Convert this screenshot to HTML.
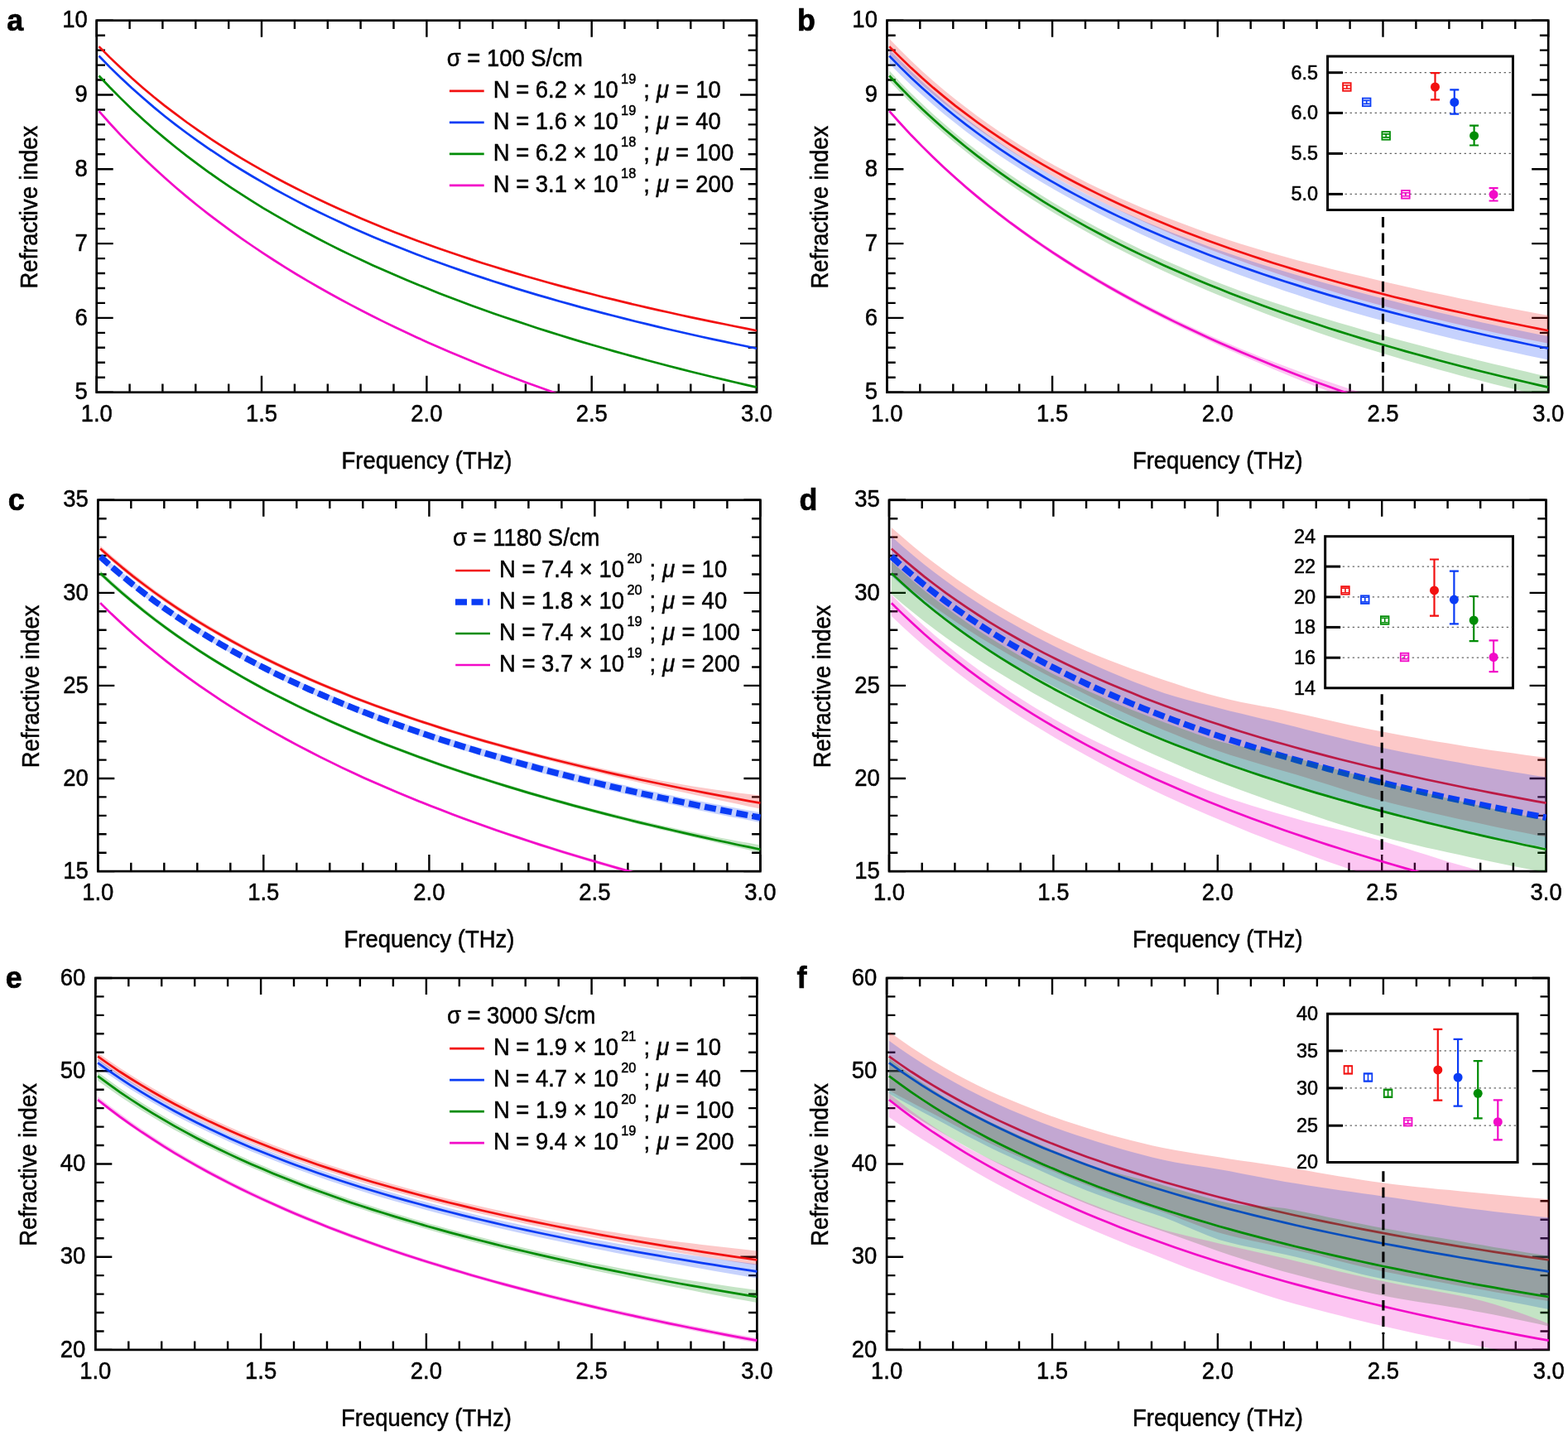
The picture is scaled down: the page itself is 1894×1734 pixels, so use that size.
<!DOCTYPE html>
<html lang="en"><head><meta charset="utf-8"><title>Refractive index vs frequency</title>
<style>html,body{margin:0;padding:0;background:#fff}body{width:1894px;height:1734px;overflow:hidden}svg{display:block}text{font-family:"Liberation Sans",Arial,Helvetica,sans-serif;fill:#000;stroke:#000;stroke-width:0.5px}.t{font-size:28.6px}.pl{font-size:37px;font-weight:bold;stroke-width:0.7px}.it{font-style:italic}.sup{font-size:17px}.in{font-size:24.5px}</style></head><body>
<svg width="1894" height="1734" viewBox="0 0 1894 1734">
<rect width="1894" height="1734" fill="#fff"/>
<g id="panel-a">
<clipPath id="clip-a"><rect x="116.7" y="24.7" width="798.5" height="449.0"/></clipPath>
<rect x="116.7" y="24.7" width="797.3" height="449.0" fill="none" stroke="#000" stroke-width="2.7"/>
<path d="M116.7 473.7v-20.0M116.7 24.7v20.0M156.6 473.7v-10.3M156.6 24.7v10.3M196.4 473.7v-10.3M196.4 24.7v10.3M236.3 473.7v-10.3M236.3 24.7v10.3M276.2 473.7v-10.3M276.2 24.7v10.3M316.0 473.7v-20.0M316.0 24.7v20.0M355.9 473.7v-10.3M355.9 24.7v10.3M395.8 473.7v-10.3M395.8 24.7v10.3M435.6 473.7v-10.3M435.6 24.7v10.3M475.5 473.7v-10.3M475.5 24.7v10.3M515.4 473.7v-20.0M515.4 24.7v20.0M555.2 473.7v-10.3M555.2 24.7v10.3M595.1 473.7v-10.3M595.1 24.7v10.3M634.9 473.7v-10.3M634.9 24.7v10.3M674.8 473.7v-10.3M674.8 24.7v10.3M714.7 473.7v-20.0M714.7 24.7v20.0M754.5 473.7v-10.3M754.5 24.7v10.3M794.4 473.7v-10.3M794.4 24.7v10.3M834.3 473.7v-10.3M834.3 24.7v10.3M874.1 473.7v-10.3M874.1 24.7v10.3M914.0 473.7v-20.0M914.0 24.7v20.0M116.7 473.7h20.0M914.0 473.7h-20.0M116.7 455.7h10.3M914.0 455.7h-10.3M116.7 437.8h10.3M914.0 437.8h-10.3M116.7 419.8h10.3M914.0 419.8h-10.3M116.7 401.9h10.3M914.0 401.9h-10.3M116.7 383.9h20.0M914.0 383.9h-20.0M116.7 365.9h10.3M914.0 365.9h-10.3M116.7 348.0h10.3M914.0 348.0h-10.3M116.7 330.0h10.3M914.0 330.0h-10.3M116.7 312.1h10.3M914.0 312.1h-10.3M116.7 294.1h20.0M914.0 294.1h-20.0M116.7 276.1h10.3M914.0 276.1h-10.3M116.7 258.2h10.3M914.0 258.2h-10.3M116.7 240.2h10.3M914.0 240.2h-10.3M116.7 222.3h10.3M914.0 222.3h-10.3M116.7 204.3h20.0M914.0 204.3h-20.0M116.7 186.3h10.3M914.0 186.3h-10.3M116.7 168.4h10.3M914.0 168.4h-10.3M116.7 150.4h10.3M914.0 150.4h-10.3M116.7 132.5h10.3M914.0 132.5h-10.3M116.7 114.5h20.0M914.0 114.5h-20.0M116.7 96.5h10.3M914.0 96.5h-10.3M116.7 78.6h10.3M914.0 78.6h-10.3M116.7 60.6h10.3M914.0 60.6h-10.3M116.7 42.7h10.3M914.0 42.7h-10.3M116.7 24.7h20.0M914.0 24.7h-20.0" stroke="#000" stroke-width="2.4" fill="none"/>
<text class="t" transform="translate(116.7 508.7) scale(0.96 1)" text-anchor="middle">1.0</text>
<text class="t" transform="translate(316.0 508.7) scale(0.96 1)" text-anchor="middle">1.5</text>
<text class="t" transform="translate(515.4 508.7) scale(0.96 1)" text-anchor="middle">2.0</text>
<text class="t" transform="translate(714.7 508.7) scale(0.96 1)" text-anchor="middle">2.5</text>
<text class="t" transform="translate(914.0 508.7) scale(0.96 1)" text-anchor="middle">3.0</text>
<text class="t" transform="translate(105.7 482.3) scale(0.96 1)" text-anchor="end">5</text>
<text class="t" transform="translate(105.7 392.5) scale(0.96 1)" text-anchor="end">6</text>
<text class="t" transform="translate(105.7 302.7) scale(0.96 1)" text-anchor="end">7</text>
<text class="t" transform="translate(105.7 212.9) scale(0.96 1)" text-anchor="end">8</text>
<text class="t" transform="translate(105.7 123.1) scale(0.96 1)" text-anchor="end">9</text>
<text class="t" transform="translate(105.7 33.3) scale(0.96 1)" text-anchor="end">10</text>
<text class="t" transform="translate(515.4 565.9) scale(0.96 1)" text-anchor="middle">Frequency (THz)</text>
<text class="t" transform="translate(45.4 250.2) rotate(-90) scale(0.96 1)" text-anchor="middle">Refractive index</text>
<text class="pl" transform="translate(8.2 36.7) scale(0.97 1)">a</text>
<g clip-path="url(#clip-a)">
<path d="M119.5 56.1 L132.7 69.4 L146.0 82.1 L159.2 94.3 L172.5 105.9 L185.7 117.0 L198.9 127.6 L212.2 137.7 L225.4 147.5 L238.7 156.9 L251.9 165.9 L265.2 174.6 L278.4 183.0 L291.6 191.1 L304.9 198.9 L318.1 206.4 L331.4 213.7 L344.6 220.7 L357.8 227.5 L371.1 234.1 L384.3 240.5 L397.6 246.7 L410.8 252.8 L424.1 258.6 L437.3 264.3 L450.5 269.8 L463.8 275.2 L477.0 280.4 L490.3 285.5 L503.5 290.5 L516.7 295.3 L530.0 300.0 L543.2 304.6 L556.5 309.0 L569.7 313.4 L583.0 317.7 L596.2 321.8 L609.4 325.9 L622.7 329.9 L635.9 333.7 L649.2 337.5 L662.4 341.3 L675.6 344.9 L688.9 348.4 L702.1 351.9 L715.4 355.3 L728.6 358.7 L741.9 361.9 L755.1 365.1 L768.3 368.3 L781.6 371.4 L794.8 374.4 L808.1 377.3 L821.3 380.2 L834.5 383.1 L847.8 385.9 L861.0 388.6 L874.3 391.3 L887.5 394.0 L900.8 396.6 L914.0 399.2" fill="none" stroke="#f21010" stroke-width="2.7"/>
<path d="M119.5 67.5 L132.7 81.1 L146.0 94.0 L159.2 106.3 L172.5 118.1 L185.7 129.4 L198.9 140.2 L212.2 150.6 L225.4 160.5 L238.7 170.1 L251.9 179.3 L265.2 188.2 L278.4 196.8 L291.6 205.0 L304.9 213.0 L318.1 220.7 L331.4 228.2 L344.6 235.4 L357.8 242.4 L371.1 249.2 L384.3 255.8 L397.6 262.1 L410.8 268.3 L424.1 274.4 L437.3 280.2 L450.5 285.9 L463.8 291.4 L477.0 296.8 L490.3 302.1 L503.5 307.2 L516.7 312.2 L530.0 317.1 L543.2 321.8 L556.5 326.4 L569.7 331.0 L583.0 335.4 L596.2 339.7 L609.4 343.9 L622.7 348.1 L635.9 352.1 L649.2 356.1 L662.4 359.9 L675.6 363.7 L688.9 367.4 L702.1 371.1 L715.4 374.6 L728.6 378.1 L741.9 381.5 L755.1 384.9 L768.3 388.2 L781.6 391.4 L794.8 394.6 L808.1 397.7 L821.3 400.8 L834.5 403.8 L847.8 406.7 L861.0 409.6 L874.3 412.4 L887.5 415.2 L900.8 418.0 L914.0 420.7" fill="none" stroke="#0a3cf5" stroke-width="2.7"/>
<path d="M119.5 91.5 L132.7 105.5 L146.0 118.9 L159.2 131.7 L172.5 143.9 L185.7 155.7 L198.9 166.9 L212.2 177.7 L225.4 188.1 L238.7 198.1 L251.9 207.8 L265.2 217.1 L278.4 226.1 L291.6 234.7 L304.9 243.1 L318.1 251.3 L331.4 259.1 L344.6 266.7 L357.8 274.1 L371.1 281.3 L384.3 288.3 L397.6 295.1 L410.8 301.7 L424.1 308.1 L437.3 314.3 L450.5 320.4 L463.8 326.3 L477.0 332.1 L490.3 337.7 L503.5 343.2 L516.7 348.6 L530.0 353.9 L543.2 359.0 L556.5 364.0 L569.7 368.9 L583.0 373.7 L596.2 378.4 L609.4 383.0 L622.7 387.4 L635.9 391.8 L649.2 396.2 L662.4 400.4 L675.6 404.5 L688.9 408.6 L702.1 412.6 L715.4 416.5 L728.6 420.3 L741.9 424.1 L755.1 427.8 L768.3 431.4 L781.6 435.0 L794.8 438.5 L808.1 442.0 L821.3 445.4 L834.5 448.7 L847.8 452.0 L861.0 455.2 L874.3 458.4 L887.5 461.5 L900.8 464.6 L914.0 467.6" fill="none" stroke="#008c05" stroke-width="2.7"/>
<path d="M119.5 134.2 L132.7 149.0 L146.0 163.3 L159.2 176.9 L172.5 190.0 L185.7 202.5 L198.9 214.6 L212.2 226.2 L225.4 237.4 L238.7 248.2 L251.9 258.6 L265.2 268.7 L278.4 278.4 L291.6 287.9 L304.9 297.0 L318.1 305.9 L331.4 314.5 L344.6 322.8 L357.8 331.0 L371.1 338.8 L384.3 346.5 L397.6 354.0 L410.8 361.3 L424.1 368.4 L437.3 375.3 L450.5 382.0 L463.8 388.6 L477.0 395.0 L490.3 401.3 L503.5 407.4 L516.7 413.4 L530.0 419.3 L543.2 425.0 L556.5 430.6 L569.7 436.1 L583.0 441.5 L596.2 446.8 L609.4 451.9 L622.7 457.0 L635.9 461.9 L649.2 466.8 L662.4 471.6 L675.6 476.2 L688.9 480.8 L702.1 485.3 L715.4 489.7 L728.6 494.1 L741.9 498.4 L755.1 502.5 L768.3 506.7 L781.6 510.7 L794.8 514.7 L808.1 518.6 L821.3 522.4 L834.5 526.2 L847.8 529.9 L861.0 533.6 L874.3 537.2 L887.5 540.7 L900.8 544.2 L914.0 547.6" fill="none" stroke="#f20ac8" stroke-width="2.7"/>
</g>
<text class="t" transform="translate(539.7 79.9) scale(0.96 1)">σ = 100 S/cm</text>
<path d="M542.9 109.9 h41.8" stroke="#f21010" stroke-width="2.7" fill="none"/>
<text class="t" transform="translate(595.7 118.0) scale(0.96 1)">N = 6.2 × 10<tspan class="sup" dx="3.5" dy="-17.5">19</tspan><tspan dx="1.3" dy="17.5" letter-spacing="0.22"> ; <tspan class="it">μ</tspan> = 10</tspan></text>
<path d="M542.9 147.9 h41.8" stroke="#0a3cf5" stroke-width="2.7" fill="none"/>
<text class="t" transform="translate(595.7 156.0) scale(0.96 1)">N = 1.6 × 10<tspan class="sup" dx="3.5" dy="-17.5">19</tspan><tspan dx="1.3" dy="17.5" letter-spacing="0.22"> ; <tspan class="it">μ</tspan> = 40</tspan></text>
<path d="M542.9 185.9 h41.8" stroke="#008c05" stroke-width="2.7" fill="none"/>
<text class="t" transform="translate(595.7 194.0) scale(0.96 1)">N = 6.2 × 10<tspan class="sup" dx="3.5" dy="-17.5">18</tspan><tspan dx="1.3" dy="17.5" letter-spacing="0.22"> ; <tspan class="it">μ</tspan> = 100</tspan></text>
<path d="M542.9 223.9 h41.8" stroke="#f20ac8" stroke-width="2.7" fill="none"/>
<text class="t" transform="translate(595.7 232.0) scale(0.96 1)">N = 3.1 × 10<tspan class="sup" dx="3.5" dy="-17.5">18</tspan><tspan dx="1.3" dy="17.5" letter-spacing="0.22"> ; <tspan class="it">μ</tspan> = 200</tspan></text>
</g>
<g id="panel-b">
<clipPath id="clip-b"><rect x="1071.4" y="24.7" width="800.0" height="449.0"/></clipPath>
<rect x="1071.4" y="24.7" width="798.8" height="449.0" fill="none" stroke="#000" stroke-width="2.7"/>
<path d="M1071.4 473.7v-20.0M1071.4 24.7v20.0M1111.3 473.7v-10.3M1111.3 24.7v10.3M1151.3 473.7v-10.3M1151.3 24.7v10.3M1191.2 473.7v-10.3M1191.2 24.7v10.3M1231.2 473.7v-10.3M1231.2 24.7v10.3M1271.1 473.7v-20.0M1271.1 24.7v20.0M1311.0 473.7v-10.3M1311.0 24.7v10.3M1351.0 473.7v-10.3M1351.0 24.7v10.3M1390.9 473.7v-10.3M1390.9 24.7v10.3M1430.9 473.7v-10.3M1430.9 24.7v10.3M1470.8 473.7v-20.0M1470.8 24.7v20.0M1510.7 473.7v-10.3M1510.7 24.7v10.3M1550.7 473.7v-10.3M1550.7 24.7v10.3M1590.6 473.7v-10.3M1590.6 24.7v10.3M1630.6 473.7v-10.3M1630.6 24.7v10.3M1670.5 473.7v-20.0M1670.5 24.7v20.0M1710.4 473.7v-10.3M1710.4 24.7v10.3M1750.4 473.7v-10.3M1750.4 24.7v10.3M1790.3 473.7v-10.3M1790.3 24.7v10.3M1830.3 473.7v-10.3M1830.3 24.7v10.3M1870.2 473.7v-20.0M1870.2 24.7v20.0M1071.4 473.7h20.0M1870.2 473.7h-20.0M1071.4 455.7h10.3M1870.2 455.7h-10.3M1071.4 437.8h10.3M1870.2 437.8h-10.3M1071.4 419.8h10.3M1870.2 419.8h-10.3M1071.4 401.9h10.3M1870.2 401.9h-10.3M1071.4 383.9h20.0M1870.2 383.9h-20.0M1071.4 365.9h10.3M1870.2 365.9h-10.3M1071.4 348.0h10.3M1870.2 348.0h-10.3M1071.4 330.0h10.3M1870.2 330.0h-10.3M1071.4 312.1h10.3M1870.2 312.1h-10.3M1071.4 294.1h20.0M1870.2 294.1h-20.0M1071.4 276.1h10.3M1870.2 276.1h-10.3M1071.4 258.2h10.3M1870.2 258.2h-10.3M1071.4 240.2h10.3M1870.2 240.2h-10.3M1071.4 222.3h10.3M1870.2 222.3h-10.3M1071.4 204.3h20.0M1870.2 204.3h-20.0M1071.4 186.3h10.3M1870.2 186.3h-10.3M1071.4 168.4h10.3M1870.2 168.4h-10.3M1071.4 150.4h10.3M1870.2 150.4h-10.3M1071.4 132.5h10.3M1870.2 132.5h-10.3M1071.4 114.5h20.0M1870.2 114.5h-20.0M1071.4 96.5h10.3M1870.2 96.5h-10.3M1071.4 78.6h10.3M1870.2 78.6h-10.3M1071.4 60.6h10.3M1870.2 60.6h-10.3M1071.4 42.7h10.3M1870.2 42.7h-10.3M1071.4 24.7h20.0M1870.2 24.7h-20.0" stroke="#000" stroke-width="2.4" fill="none"/>
<text class="t" transform="translate(1071.4 508.7) scale(0.96 1)" text-anchor="middle">1.0</text>
<text class="t" transform="translate(1271.1 508.7) scale(0.96 1)" text-anchor="middle">1.5</text>
<text class="t" transform="translate(1470.8 508.7) scale(0.96 1)" text-anchor="middle">2.0</text>
<text class="t" transform="translate(1670.5 508.7) scale(0.96 1)" text-anchor="middle">2.5</text>
<text class="t" transform="translate(1870.2 508.7) scale(0.96 1)" text-anchor="middle">3.0</text>
<text class="t" transform="translate(1059.9 482.3) scale(0.96 1)" text-anchor="end">5</text>
<text class="t" transform="translate(1059.9 392.5) scale(0.96 1)" text-anchor="end">6</text>
<text class="t" transform="translate(1059.9 302.7) scale(0.96 1)" text-anchor="end">7</text>
<text class="t" transform="translate(1059.9 212.9) scale(0.96 1)" text-anchor="end">8</text>
<text class="t" transform="translate(1059.9 123.1) scale(0.96 1)" text-anchor="end">9</text>
<text class="t" transform="translate(1059.9 33.3) scale(0.96 1)" text-anchor="end">10</text>
<text class="t" transform="translate(1470.8 565.9) scale(0.96 1)" text-anchor="middle">Frequency (THz)</text>
<text class="t" transform="translate(1000.1 250.2) rotate(-90) scale(0.96 1)" text-anchor="middle">Refractive index</text>
<text class="pl" transform="translate(962.9 36.7) scale(0.97 1)">b</text>
<g clip-path="url(#clip-b)">
<path d="M1074.2 46.8 L1087.5 60.5 L1100.7 73.5 L1114.0 85.9 L1127.3 97.7 L1140.5 109.0 L1153.8 119.8 L1167.1 130.1 L1180.3 140.0 L1193.6 149.6 L1206.9 158.7 L1220.1 167.5 L1233.4 175.9 L1246.7 184.0 L1259.9 191.9 L1273.2 199.4 L1286.5 206.6 L1299.7 213.6 L1313.0 220.4 L1326.3 226.9 L1339.5 233.1 L1352.8 239.2 L1366.1 245.0 L1379.3 250.7 L1392.6 256.1 L1405.9 261.5 L1419.1 266.6 L1432.4 271.6 L1445.7 276.4 L1458.9 281.2 L1472.2 285.7 L1485.5 290.2 L1498.7 294.4 L1512.0 298.6 L1525.3 302.5 L1538.5 306.3 L1551.8 310.1 L1565.1 313.7 L1578.3 317.2 L1591.6 320.6 L1604.9 323.9 L1618.1 327.2 L1631.4 330.4 L1644.7 333.6 L1657.9 336.8 L1671.2 339.9 L1684.5 343.0 L1697.7 346.0 L1711.0 349.0 L1724.3 351.9 L1737.5 354.8 L1750.8 357.6 L1764.1 360.4 L1777.3 363.1 L1790.6 365.7 L1803.9 368.4 L1817.1 371.0 L1830.4 373.5 L1843.7 376.1 L1856.9 378.6 L1870.2 381.1 L1870.2 414.7 L1856.9 412.1 L1843.7 409.5 L1830.4 406.8 L1817.1 404.0 L1803.9 401.2 L1790.6 398.3 L1777.3 395.4 L1764.1 392.3 L1750.8 389.3 L1737.5 386.1 L1724.3 382.9 L1711.0 379.7 L1697.7 376.3 L1684.5 372.9 L1671.2 369.4 L1657.9 365.9 L1644.7 362.2 L1631.4 358.4 L1618.1 354.5 L1604.9 350.5 L1591.6 346.5 L1578.3 342.3 L1565.1 338.0 L1551.8 333.6 L1538.5 329.1 L1525.3 324.5 L1512.0 319.9 L1498.7 315.1 L1485.5 310.2 L1472.2 305.3 L1458.9 300.2 L1445.7 295.0 L1432.4 289.7 L1419.1 284.2 L1405.9 278.6 L1392.6 272.8 L1379.3 266.8 L1366.1 260.7 L1352.8 254.5 L1339.5 248.1 L1326.3 241.5 L1313.0 234.7 L1299.7 227.8 L1286.5 220.7 L1273.2 213.4 L1259.9 205.9 L1246.7 198.1 L1233.4 190.1 L1220.1 181.7 L1206.9 173.1 L1193.6 164.2 L1180.3 154.9 L1167.1 145.3 L1153.8 135.3 L1140.5 124.9 L1127.3 114.0 L1114.0 102.7 L1100.7 90.8 L1087.5 78.3 L1074.2 65.3Z" fill="#f21010" fill-opacity="0.23" stroke="none"/>
<path d="M1074.2 56.1 L1087.5 69.4 L1100.7 82.1 L1114.0 94.3 L1127.3 105.9 L1140.5 116.9 L1153.8 127.6 L1167.1 137.7 L1180.3 147.5 L1193.6 156.9 L1206.9 165.9 L1220.1 174.6 L1233.4 183.0 L1246.7 191.1 L1259.9 198.9 L1273.2 206.4 L1286.5 213.7 L1299.7 220.7 L1313.0 227.5 L1326.3 234.1 L1339.5 240.5 L1352.8 246.7 L1366.1 252.8 L1379.3 258.6 L1392.6 264.3 L1405.9 269.8 L1419.1 275.2 L1432.4 280.4 L1445.7 285.5 L1458.9 290.4 L1472.2 295.3 L1485.5 300.0 L1498.7 304.6 L1512.0 309.0 L1525.3 313.4 L1538.5 317.7 L1551.8 321.8 L1565.1 325.9 L1578.3 329.9 L1591.6 333.7 L1604.9 337.5 L1618.1 341.2 L1631.4 344.9 L1644.7 348.4 L1657.9 351.9 L1671.2 355.3 L1684.5 358.7 L1697.7 361.9 L1711.0 365.1 L1724.3 368.3 L1737.5 371.4 L1750.8 374.4 L1764.1 377.3 L1777.3 380.2 L1790.6 383.1 L1803.9 385.9 L1817.1 388.6 L1830.4 391.3 L1843.7 394.0 L1856.9 396.6 L1870.2 399.2" fill="none" stroke="#f21010" stroke-width="2.7"/>
<path d="M1074.2 59.6 L1087.5 73.3 L1100.7 86.3 L1114.0 98.7 L1127.3 110.6 L1140.5 122.0 L1153.8 132.9 L1167.1 143.3 L1180.3 153.3 L1193.6 162.9 L1206.9 172.1 L1220.1 181.0 L1233.4 189.6 L1246.7 197.8 L1259.9 205.8 L1273.2 213.5 L1286.5 221.0 L1299.7 228.1 L1313.0 235.0 L1326.3 241.6 L1339.5 248.0 L1352.8 254.2 L1366.1 260.1 L1379.3 265.9 L1392.6 271.5 L1405.9 276.9 L1419.1 282.2 L1432.4 287.3 L1445.7 292.3 L1458.9 297.2 L1472.2 302.0 L1485.5 306.6 L1498.7 311.1 L1512.0 315.4 L1525.3 319.7 L1538.5 323.8 L1551.8 327.8 L1565.1 331.7 L1578.3 335.6 L1591.6 339.3 L1604.9 343.0 L1618.1 346.6 L1631.4 350.2 L1644.7 353.7 L1657.9 357.2 L1671.2 360.7 L1684.5 364.1 L1697.7 367.5 L1711.0 370.8 L1724.3 374.0 L1737.5 377.2 L1750.8 380.3 L1764.1 383.4 L1777.3 386.4 L1790.6 389.4 L1803.9 392.3 L1817.1 395.2 L1830.4 398.0 L1843.7 400.8 L1856.9 403.5 L1870.2 406.2 L1870.2 434.4 L1856.9 431.7 L1843.7 428.9 L1830.4 426.1 L1817.1 423.2 L1803.9 420.3 L1790.6 417.3 L1777.3 414.3 L1764.1 411.2 L1750.8 408.0 L1737.5 404.8 L1724.3 401.5 L1711.0 398.1 L1697.7 394.7 L1684.5 391.2 L1671.2 387.6 L1657.9 384.0 L1644.7 380.2 L1631.4 376.4 L1618.1 372.4 L1604.9 368.4 L1591.6 364.2 L1578.3 360.0 L1565.1 355.6 L1551.8 351.2 L1538.5 346.6 L1525.3 342.0 L1512.0 337.2 L1498.7 332.4 L1485.5 327.5 L1472.2 322.4 L1458.9 317.2 L1445.7 311.9 L1432.4 306.5 L1419.1 300.9 L1405.9 295.2 L1392.6 289.3 L1379.3 283.3 L1366.1 277.1 L1352.8 270.7 L1339.5 264.2 L1326.3 257.5 L1313.0 250.6 L1299.7 243.5 L1286.5 236.2 L1273.2 228.7 L1259.9 221.0 L1246.7 213.0 L1233.4 204.8 L1220.1 196.3 L1206.9 187.4 L1193.6 178.3 L1180.3 168.8 L1167.1 158.9 L1153.8 148.6 L1140.5 137.9 L1127.3 126.7 L1114.0 115.1 L1100.7 102.9 L1087.5 90.2 L1074.2 76.8Z" fill="#0a3cf5" fill-opacity="0.23" stroke="none"/>
<path d="M1074.2 67.5 L1087.5 81.1 L1100.7 94.0 L1114.0 106.3 L1127.3 118.1 L1140.5 129.4 L1153.8 140.2 L1167.1 150.6 L1180.3 160.5 L1193.6 170.1 L1206.9 179.3 L1220.1 188.2 L1233.4 196.8 L1246.7 205.0 L1259.9 213.0 L1273.2 220.7 L1286.5 228.2 L1299.7 235.4 L1313.0 242.4 L1326.3 249.2 L1339.5 255.8 L1352.8 262.1 L1366.1 268.3 L1379.3 274.4 L1392.6 280.2 L1405.9 285.9 L1419.1 291.4 L1432.4 296.8 L1445.7 302.1 L1458.9 307.2 L1472.2 312.2 L1485.5 317.1 L1498.7 321.8 L1512.0 326.4 L1525.3 331.0 L1538.5 335.4 L1551.8 339.7 L1565.1 343.9 L1578.3 348.1 L1591.6 352.1 L1604.9 356.1 L1618.1 359.9 L1631.4 363.7 L1644.7 367.4 L1657.9 371.1 L1671.2 374.6 L1684.5 378.1 L1697.7 381.5 L1711.0 384.9 L1724.3 388.2 L1737.5 391.4 L1750.8 394.6 L1764.1 397.7 L1777.3 400.8 L1790.6 403.8 L1803.9 406.7 L1817.1 409.6 L1830.4 412.4 L1843.7 415.2 L1856.9 418.0 L1870.2 420.7" fill="none" stroke="#0a3cf5" stroke-width="2.7"/>
<path d="M1074.2 85.3 L1087.5 99.4 L1100.7 112.8 L1114.0 125.6 L1127.3 137.9 L1140.5 149.6 L1153.8 160.9 L1167.1 171.7 L1180.3 182.1 L1193.6 192.1 L1206.9 201.8 L1220.1 211.1 L1233.4 220.1 L1246.7 228.7 L1259.9 237.1 L1273.2 245.2 L1286.5 253.1 L1299.7 260.7 L1313.0 268.1 L1326.3 275.2 L1339.5 282.1 L1352.8 288.8 L1366.1 295.3 L1379.3 301.7 L1392.6 307.8 L1405.9 313.8 L1419.1 319.6 L1432.4 325.3 L1445.7 330.8 L1458.9 336.2 L1472.2 341.4 L1485.5 346.5 L1498.7 351.4 L1512.0 356.2 L1525.3 360.8 L1538.5 365.3 L1551.8 369.6 L1565.1 373.9 L1578.3 378.0 L1591.6 382.1 L1604.9 386.1 L1618.1 390.0 L1631.4 393.8 L1644.7 397.7 L1657.9 401.4 L1671.2 405.2 L1684.5 408.9 L1697.7 412.5 L1711.0 416.1 L1724.3 419.6 L1737.5 423.0 L1750.8 426.4 L1764.1 429.8 L1777.3 433.1 L1790.6 436.3 L1803.9 439.5 L1817.1 442.6 L1830.4 445.8 L1843.7 448.8 L1856.9 451.9 L1870.2 454.9 L1870.2 479.6 L1856.9 476.5 L1843.7 473.4 L1830.4 470.2 L1817.1 467.0 L1803.9 463.7 L1790.6 460.3 L1777.3 456.9 L1764.1 453.4 L1750.8 449.8 L1737.5 446.2 L1724.3 442.5 L1711.0 438.8 L1697.7 434.9 L1684.5 431.1 L1671.2 427.1 L1657.9 423.1 L1644.7 418.9 L1631.4 414.7 L1618.1 410.4 L1604.9 405.9 L1591.6 401.4 L1578.3 396.8 L1565.1 392.1 L1551.8 387.3 L1538.5 382.4 L1525.3 377.4 L1512.0 372.3 L1498.7 367.1 L1485.5 361.8 L1472.2 356.4 L1458.9 350.9 L1445.7 345.3 L1432.4 339.5 L1419.1 333.5 L1405.9 327.5 L1392.6 321.2 L1379.3 314.8 L1366.1 308.3 L1352.8 301.5 L1339.5 294.7 L1326.3 287.6 L1313.0 280.3 L1299.7 272.8 L1286.5 265.1 L1273.2 257.3 L1259.9 249.1 L1246.7 240.7 L1233.4 232.0 L1220.1 223.0 L1206.9 213.7 L1193.6 204.1 L1180.3 194.1 L1167.1 183.6 L1153.8 172.8 L1140.5 161.6 L1127.3 149.8 L1114.0 137.6 L1100.7 124.8 L1087.5 111.4 L1074.2 97.4Z" fill="#008c05" fill-opacity="0.23" stroke="none"/>
<path d="M1074.2 91.5 L1087.5 105.5 L1100.7 118.9 L1114.0 131.7 L1127.3 143.9 L1140.5 155.7 L1153.8 166.9 L1167.1 177.7 L1180.3 188.1 L1193.6 198.1 L1206.9 207.8 L1220.1 217.1 L1233.4 226.1 L1246.7 234.7 L1259.9 243.1 L1273.2 251.2 L1286.5 259.1 L1299.7 266.7 L1313.0 274.1 L1326.3 281.3 L1339.5 288.3 L1352.8 295.1 L1366.1 301.7 L1379.3 308.1 L1392.6 314.3 L1405.9 320.4 L1419.1 326.3 L1432.4 332.1 L1445.7 337.7 L1458.9 343.2 L1472.2 348.6 L1485.5 353.9 L1498.7 359.0 L1512.0 364.0 L1525.3 368.9 L1538.5 373.7 L1551.8 378.4 L1565.1 383.0 L1578.3 387.4 L1591.6 391.8 L1604.9 396.2 L1618.1 400.4 L1631.4 404.5 L1644.7 408.6 L1657.9 412.6 L1671.2 416.5 L1684.5 420.3 L1697.7 424.1 L1711.0 427.8 L1724.3 431.4 L1737.5 435.0 L1750.8 438.5 L1764.1 442.0 L1777.3 445.4 L1790.6 448.7 L1803.9 452.0 L1817.1 455.2 L1830.4 458.4 L1843.7 461.5 L1856.9 464.6 L1870.2 467.6" fill="none" stroke="#008c05" stroke-width="2.7"/>
<path d="M1074.2 132.6 L1087.5 147.4 L1100.7 161.6 L1114.0 175.2 L1127.3 188.2 L1140.5 200.7 L1153.8 212.7 L1167.1 224.2 L1180.3 235.3 L1193.6 246.1 L1206.9 256.4 L1220.1 266.4 L1233.4 276.1 L1246.7 285.5 L1259.9 294.6 L1273.2 303.4 L1286.5 311.9 L1299.7 320.2 L1313.0 328.3 L1326.3 336.1 L1339.5 343.7 L1352.8 351.1 L1366.1 358.4 L1379.3 365.4 L1392.6 372.2 L1405.9 378.9 L1419.1 385.4 L1432.4 391.8 L1445.7 398.0 L1458.9 404.0 L1472.2 409.9 L1485.5 415.6 L1498.7 421.2 L1512.0 426.6 L1525.3 431.9 L1538.5 437.0 L1551.8 442.0 L1565.1 446.9 L1578.3 451.7 L1591.6 456.4 L1604.9 460.9 L1618.1 465.4 L1631.4 469.9 L1644.7 474.2 L1657.9 478.5 L1671.2 482.7 L1684.5 486.9 L1697.7 491.0 L1711.0 495.0 L1724.3 499.0 L1737.5 502.9 L1750.8 506.7 L1764.1 510.5 L1777.3 514.2 L1790.6 517.8 L1803.9 521.4 L1817.1 525.0 L1830.4 528.4 L1843.7 531.9 L1856.9 535.3 L1870.2 538.6 L1870.2 556.6 L1856.9 553.1 L1843.7 549.5 L1830.4 545.9 L1817.1 542.2 L1803.9 538.4 L1790.6 534.6 L1777.3 530.7 L1764.1 526.7 L1750.8 522.6 L1737.5 518.5 L1724.3 514.3 L1711.0 510.0 L1697.7 505.7 L1684.5 501.3 L1671.2 496.8 L1657.9 492.1 L1644.7 487.4 L1631.4 482.6 L1618.1 477.7 L1604.9 472.6 L1591.6 467.5 L1578.3 462.3 L1565.1 456.9 L1551.8 451.5 L1538.5 446.0 L1525.3 440.3 L1512.0 434.6 L1498.7 428.8 L1485.5 422.9 L1472.2 416.9 L1458.9 410.8 L1445.7 404.6 L1432.4 398.3 L1419.1 391.8 L1405.9 385.1 L1392.6 378.3 L1379.3 371.3 L1366.1 364.2 L1352.8 356.8 L1339.5 349.3 L1326.3 341.6 L1313.0 333.6 L1299.7 325.5 L1286.5 317.1 L1273.2 308.4 L1259.9 299.5 L1246.7 290.2 L1233.4 280.7 L1220.1 270.9 L1206.9 260.8 L1193.6 250.3 L1180.3 239.4 L1167.1 228.2 L1153.8 216.5 L1140.5 204.4 L1127.3 191.7 L1114.0 178.6 L1100.7 164.9 L1087.5 150.6 L1074.2 135.7Z" fill="#f20ac8" fill-opacity="0.23" stroke="none"/>
<path d="M1074.2 134.1 L1087.5 149.0 L1100.7 163.3 L1114.0 176.9 L1127.3 190.0 L1140.5 202.5 L1153.8 214.6 L1167.1 226.2 L1180.3 237.4 L1193.6 248.2 L1206.9 258.6 L1220.1 268.7 L1233.4 278.4 L1246.7 287.9 L1259.9 297.0 L1273.2 305.9 L1286.5 314.5 L1299.7 322.8 L1313.0 330.9 L1326.3 338.8 L1339.5 346.5 L1352.8 354.0 L1366.1 361.3 L1379.3 368.4 L1392.6 375.3 L1405.9 382.0 L1419.1 388.6 L1432.4 395.0 L1445.7 401.3 L1458.9 407.4 L1472.2 413.4 L1485.5 419.3 L1498.7 425.0 L1512.0 430.6 L1525.3 436.1 L1538.5 441.5 L1551.8 446.8 L1565.1 451.9 L1578.3 457.0 L1591.6 461.9 L1604.9 466.8 L1618.1 471.6 L1631.4 476.2 L1644.7 480.8 L1657.9 485.3 L1671.2 489.7 L1684.5 494.1 L1697.7 498.4 L1711.0 502.5 L1724.3 506.7 L1737.5 510.7 L1750.8 514.7 L1764.1 518.6 L1777.3 522.4 L1790.6 526.2 L1803.9 529.9 L1817.1 533.6 L1830.4 537.2 L1843.7 540.7 L1856.9 544.2 L1870.2 547.6" fill="none" stroke="#f20ac8" stroke-width="2.7"/>
</g>
<path d="M1670.5 262.0 V454.7" stroke="#000" stroke-width="3.1" stroke-dasharray="12.6 6.85" fill="none"/>
<rect x="1603.6" y="68.0" width="223.9" height="185.5" fill="#fff" stroke="#000" stroke-width="3"/>
<path d="M1603.6 87.7 H1622.1" stroke="#000" stroke-width="3" fill="none"/>
<path d="M1624.6 87.7 H1826.5" stroke="#666" stroke-width="1.2" stroke-dasharray="2.4 3.6" fill="none"/>
<text class="in" transform="translate(1592.1 95.5) scale(0.96 1)" text-anchor="end">6.5</text>
<path d="M1603.6 136.4 H1622.1" stroke="#000" stroke-width="3" fill="none"/>
<path d="M1624.6 136.4 H1826.5" stroke="#666" stroke-width="1.2" stroke-dasharray="2.4 3.6" fill="none"/>
<text class="in" transform="translate(1592.1 144.2) scale(0.96 1)" text-anchor="end">6.0</text>
<path d="M1603.6 185.4 H1622.1" stroke="#000" stroke-width="3" fill="none"/>
<path d="M1624.6 185.4 H1826.5" stroke="#666" stroke-width="1.2" stroke-dasharray="2.4 3.6" fill="none"/>
<text class="in" transform="translate(1592.1 193.2) scale(0.96 1)" text-anchor="end">5.5</text>
<path d="M1603.6 234.4 H1622.1" stroke="#000" stroke-width="3" fill="none"/>
<path d="M1624.6 234.4 H1826.5" stroke="#666" stroke-width="1.2" stroke-dasharray="2.4 3.6" fill="none"/>
<text class="in" transform="translate(1592.1 242.2) scale(0.96 1)" text-anchor="end">5.0</text>
<rect x="1622.1" y="100.2" width="9.6" height="9.6" fill="none" stroke="#f21010" stroke-width="1.8"/>
<path d="M1622.9 103.0h8M1622.9 107.0h8M1626.9 103.0V107.0" stroke="#f21010" stroke-width="1.6" fill="none"/>
<path d="M1733.5 88.2V120.3M1728.0 88.2h11M1728.0 120.3h11" stroke="#f21010" stroke-width="2.2" fill="none"/>
<circle cx="1733.5" cy="105.0" r="5.5" fill="#f21010"/>
<rect x="1645.9" y="118.6" width="9.6" height="9.6" fill="none" stroke="#0a3cf5" stroke-width="1.8"/>
<path d="M1646.7 121.4h8M1646.7 125.4h8M1650.7 121.4V125.4" stroke="#0a3cf5" stroke-width="1.6" fill="none"/>
<path d="M1756.8 108.3V137.6M1751.3 108.3h11M1751.3 137.6h11" stroke="#0a3cf5" stroke-width="2.2" fill="none"/>
<circle cx="1756.8" cy="123.4" r="5.5" fill="#0a3cf5"/>
<rect x="1669.4" y="159.1" width="9.6" height="9.6" fill="none" stroke="#008c05" stroke-width="1.8"/>
<path d="M1670.2 161.9h8M1670.2 165.9h8M1674.2 161.9V165.9" stroke="#008c05" stroke-width="1.6" fill="none"/>
<path d="M1780.6 151.6V175.5M1775.1 151.6h11M1775.1 175.5h11" stroke="#008c05" stroke-width="2.2" fill="none"/>
<circle cx="1780.6" cy="163.9" r="5.5" fill="#008c05"/>
<rect x="1693.1" y="230.0" width="9.6" height="9.6" fill="none" stroke="#f20ac8" stroke-width="1.8"/>
<path d="M1693.9 232.8h8M1693.9 236.8h8M1697.9 232.8V236.8" stroke="#f20ac8" stroke-width="1.6" fill="none"/>
<path d="M1804.1 227.1V242.5M1798.6 227.1h11M1798.6 242.5h11" stroke="#f20ac8" stroke-width="2.2" fill="none"/>
<circle cx="1804.1" cy="234.8" r="5.5" fill="#f20ac8"/>
</g>
<g id="panel-c">
<clipPath id="clip-c"><rect x="118.3" y="603.8" width="801.3" height="448.3"/></clipPath>
<rect x="118.3" y="603.8" width="800.1" height="448.3" fill="none" stroke="#000" stroke-width="2.7"/>
<path d="M118.3 1052.1v-20.0M118.3 603.8v20.0M158.3 1052.1v-10.3M158.3 603.8v10.3M198.3 1052.1v-10.3M198.3 603.8v10.3M238.3 1052.1v-10.3M238.3 603.8v10.3M278.3 1052.1v-10.3M278.3 603.8v10.3M318.3 1052.1v-20.0M318.3 603.8v20.0M358.3 1052.1v-10.3M358.3 603.8v10.3M398.3 1052.1v-10.3M398.3 603.8v10.3M438.3 1052.1v-10.3M438.3 603.8v10.3M478.3 1052.1v-10.3M478.3 603.8v10.3M518.4 1052.1v-20.0M518.4 603.8v20.0M558.4 1052.1v-10.3M558.4 603.8v10.3M598.4 1052.1v-10.3M598.4 603.8v10.3M638.4 1052.1v-10.3M638.4 603.8v10.3M678.4 1052.1v-10.3M678.4 603.8v10.3M718.4 1052.1v-20.0M718.4 603.8v20.0M758.4 1052.1v-10.3M758.4 603.8v10.3M798.4 1052.1v-10.3M798.4 603.8v10.3M838.4 1052.1v-10.3M838.4 603.8v10.3M878.4 1052.1v-10.3M878.4 603.8v10.3M918.4 1052.1v-20.0M918.4 603.8v20.0M118.3 1052.1h20.0M918.4 1052.1h-20.0M118.3 1029.7h10.3M918.4 1029.7h-10.3M118.3 1007.3h10.3M918.4 1007.3h-10.3M118.3 984.9h10.3M918.4 984.9h-10.3M118.3 962.4h10.3M918.4 962.4h-10.3M118.3 940.0h20.0M918.4 940.0h-20.0M118.3 917.6h10.3M918.4 917.6h-10.3M118.3 895.2h10.3M918.4 895.2h-10.3M118.3 872.8h10.3M918.4 872.8h-10.3M118.3 850.4h10.3M918.4 850.4h-10.3M118.3 827.9h20.0M918.4 827.9h-20.0M118.3 805.5h10.3M918.4 805.5h-10.3M118.3 783.1h10.3M918.4 783.1h-10.3M118.3 760.7h10.3M918.4 760.7h-10.3M118.3 738.3h10.3M918.4 738.3h-10.3M118.3 715.9h20.0M918.4 715.9h-20.0M118.3 693.5h10.3M918.4 693.5h-10.3M118.3 671.0h10.3M918.4 671.0h-10.3M118.3 648.6h10.3M918.4 648.6h-10.3M118.3 626.2h10.3M918.4 626.2h-10.3M118.3 603.8h20.0M918.4 603.8h-20.0" stroke="#000" stroke-width="2.4" fill="none"/>
<text class="t" transform="translate(118.3 1087.1) scale(0.96 1)" text-anchor="middle">1.0</text>
<text class="t" transform="translate(318.3 1087.1) scale(0.96 1)" text-anchor="middle">1.5</text>
<text class="t" transform="translate(518.4 1087.1) scale(0.96 1)" text-anchor="middle">2.0</text>
<text class="t" transform="translate(718.4 1087.1) scale(0.96 1)" text-anchor="middle">2.5</text>
<text class="t" transform="translate(918.4 1087.1) scale(0.96 1)" text-anchor="middle">3.0</text>
<text class="t" transform="translate(106.8 1060.7) scale(0.96 1)" text-anchor="end">15</text>
<text class="t" transform="translate(106.8 948.6) scale(0.96 1)" text-anchor="end">20</text>
<text class="t" transform="translate(106.8 836.5) scale(0.96 1)" text-anchor="end">25</text>
<text class="t" transform="translate(106.8 724.5) scale(0.96 1)" text-anchor="end">30</text>
<text class="t" transform="translate(106.8 612.4) scale(0.96 1)" text-anchor="end">35</text>
<text class="t" transform="translate(518.4 1144.3) scale(0.96 1)" text-anchor="middle">Frequency (THz)</text>
<text class="t" transform="translate(47.0 828.9) rotate(-90) scale(0.96 1)" text-anchor="middle">Refractive index</text>
<text class="pl" transform="translate(9.8 615.8) scale(0.97 1)">c</text>
<g clip-path="url(#clip-c)">
<path d="M121.1 659.0 L134.4 670.8 L147.7 682.0 L161.0 692.8 L174.3 703.1 L187.5 712.9 L200.8 722.3 L214.1 731.4 L227.4 740.1 L240.7 748.5 L254.0 756.5 L267.3 764.3 L280.6 771.8 L293.8 779.0 L307.1 786.0 L320.4 792.8 L333.7 799.3 L347.0 805.7 L360.3 811.8 L373.6 817.8 L386.9 823.5 L400.2 829.2 L413.4 834.6 L426.7 839.9 L440.0 845.0 L453.3 849.9 L466.6 854.8 L479.9 859.4 L493.2 864.0 L506.5 868.5 L519.8 872.8 L533.0 877.1 L546.3 881.2 L559.6 885.2 L572.9 889.1 L586.2 892.9 L599.5 896.7 L612.8 900.3 L626.1 903.8 L639.3 907.3 L652.6 910.7 L665.9 913.9 L679.2 917.1 L692.5 920.3 L705.8 923.3 L719.1 926.3 L732.4 929.2 L745.7 932.1 L758.9 934.8 L772.2 937.5 L785.5 940.1 L798.8 942.7 L812.1 945.1 L825.4 947.5 L838.7 949.7 L852.0 951.8 L865.2 953.8 L878.5 955.6 L891.8 957.4 L905.1 959.0 L918.4 960.6 L918.4 976.6 L905.1 973.9 L891.8 971.1 L878.5 968.3 L865.2 965.4 L852.0 962.6 L838.7 959.7 L825.4 956.8 L812.1 953.9 L798.8 950.9 L785.5 947.9 L772.2 944.9 L758.9 941.8 L745.7 938.7 L732.4 935.5 L719.1 932.3 L705.8 929.1 L692.5 925.8 L679.2 922.4 L665.9 919.0 L652.6 915.5 L639.3 912.0 L626.1 908.4 L612.8 904.7 L599.5 901.0 L586.2 897.2 L572.9 893.3 L559.6 889.3 L546.3 885.2 L533.0 881.1 L519.8 876.8 L506.5 872.5 L493.2 868.0 L479.9 863.4 L466.6 858.8 L453.3 853.9 L440.0 849.0 L426.7 843.9 L413.4 838.7 L400.2 833.4 L386.9 827.9 L373.6 822.2 L360.3 816.4 L347.0 810.4 L333.7 804.2 L320.4 797.8 L307.1 791.1 L293.8 784.2 L280.6 777.1 L267.3 769.7 L254.0 762.0 L240.7 754.1 L227.4 745.8 L214.1 737.2 L200.8 728.2 L187.5 718.9 L174.3 709.2 L161.0 699.0 L147.7 688.3 L134.4 677.2 L121.1 665.4Z" fill="#f21010" fill-opacity="0.23" stroke="none"/>
<path d="M121.1 662.5 L134.4 674.2 L147.7 685.4 L161.0 696.1 L174.3 706.3 L187.5 716.0 L200.8 725.4 L214.1 734.4 L227.4 743.0 L240.7 751.3 L254.0 759.3 L267.3 767.0 L280.6 774.5 L293.8 781.6 L307.1 788.6 L320.4 795.3 L333.7 801.7 L347.0 808.0 L360.3 814.1 L373.6 820.0 L386.9 825.7 L400.2 831.3 L413.4 836.6 L426.7 841.9 L440.0 847.0 L453.3 851.9 L466.6 856.8 L479.9 861.4 L493.2 866.0 L506.5 870.5 L519.8 874.8 L533.0 879.1 L546.3 883.2 L559.6 887.3 L572.9 891.2 L586.2 895.1 L599.5 898.8 L612.8 902.5 L626.1 906.1 L639.3 909.6 L652.6 913.1 L665.9 916.5 L679.2 919.8 L692.5 923.0 L705.8 926.2 L719.1 929.3 L732.4 932.4 L745.7 935.4 L758.9 938.3 L772.2 941.2 L785.5 944.0 L798.8 946.8 L812.1 949.5 L825.4 952.2 L838.7 954.8 L852.0 957.4 L865.2 959.9 L878.5 962.4 L891.8 964.9 L905.1 967.3 L918.4 969.6" fill="none" stroke="#f21010" stroke-width="2.7"/>
<path d="M121.1 668.3 L134.4 680.2 L147.7 691.5 L161.0 702.4 L174.3 712.7 L187.5 722.7 L200.8 732.2 L214.1 741.3 L227.4 750.1 L240.7 758.6 L254.0 766.7 L267.3 774.6 L280.6 782.2 L293.8 789.5 L307.1 796.5 L320.4 803.4 L333.7 810.0 L347.0 816.4 L360.3 822.6 L373.6 828.6 L386.9 834.5 L400.2 840.1 L413.4 845.6 L426.7 851.0 L440.0 856.2 L453.3 861.2 L466.6 866.1 L479.9 870.9 L493.2 875.6 L506.5 880.1 L519.8 884.6 L533.0 888.9 L546.3 893.1 L559.6 897.3 L572.9 901.3 L586.2 905.2 L599.5 909.1 L612.8 912.8 L626.1 916.5 L639.3 920.1 L652.6 923.6 L665.9 927.0 L679.2 930.4 L692.5 933.7 L705.8 936.9 L719.1 940.1 L732.4 943.2 L745.7 946.3 L758.9 949.3 L772.2 952.2 L785.5 955.1 L798.8 957.9 L812.1 960.7 L825.4 963.4 L838.7 966.1 L852.0 968.7 L865.2 971.3 L878.5 973.8 L891.8 976.3 L905.1 978.8 L918.4 981.2 L918.4 993.2 L905.1 990.6 L891.8 988.0 L878.5 985.4 L865.2 982.7 L852.0 980.0 L838.7 977.2 L825.4 974.4 L812.1 971.6 L798.8 968.7 L785.5 965.7 L772.2 962.7 L758.9 959.6 L745.7 956.5 L732.4 953.4 L719.1 950.1 L705.8 946.8 L692.5 943.5 L679.2 940.1 L665.9 936.6 L652.6 933.0 L639.3 929.4 L626.1 925.7 L612.8 921.9 L599.5 918.0 L586.2 914.1 L572.9 910.0 L559.6 905.9 L546.3 901.7 L533.0 897.4 L519.8 893.0 L506.5 888.5 L493.2 883.9 L479.9 879.1 L466.6 874.2 L453.3 869.3 L440.0 864.1 L426.7 858.9 L413.4 853.5 L400.2 847.9 L386.9 842.2 L373.6 836.3 L360.3 830.3 L347.0 824.0 L333.7 817.6 L320.4 811.0 L307.1 804.1 L293.8 797.1 L280.6 789.8 L267.3 782.2 L254.0 774.3 L240.7 766.2 L227.4 757.7 L214.1 748.9 L200.8 739.8 L187.5 730.3 L174.3 720.3 L161.0 710.0 L147.7 699.1 L134.4 687.8 L121.1 675.9Z" fill="#0a3cf5" fill-opacity="0.23" stroke="none"/>
<path d="M121.1 672.1 L134.4 684.0 L147.7 695.3 L161.0 706.2 L174.3 716.5 L187.5 726.5 L200.8 736.0 L214.1 745.1 L227.4 753.9 L240.7 762.4 L254.0 770.5 L267.3 778.4 L280.6 786.0 L293.8 793.3 L307.1 800.3 L320.4 807.2 L333.7 813.8 L347.0 820.2 L360.3 826.4 L373.6 832.5 L386.9 838.3 L400.2 844.0 L413.4 849.5 L426.7 854.9 L440.0 860.1 L453.3 865.2 L466.6 870.2 L479.9 875.0 L493.2 879.7 L506.5 884.3 L519.8 888.8 L533.0 893.2 L546.3 897.4 L559.6 901.6 L572.9 905.7 L586.2 909.7 L599.5 913.5 L612.8 917.4 L626.1 921.1 L639.3 924.7 L652.6 928.3 L665.9 931.8 L679.2 935.2 L692.5 938.6 L705.8 941.9 L719.1 945.1 L732.4 948.3 L745.7 951.4 L758.9 954.5 L772.2 957.5 L785.5 960.4 L798.8 963.3 L812.1 966.1 L825.4 968.9 L838.7 971.7 L852.0 974.4 L865.2 977.0 L878.5 979.6 L891.8 982.2 L905.1 984.7 L918.4 987.2" fill="none" stroke="#0a3cf5" stroke-width="7.5" stroke-dasharray="14 5.5"/>
<path d="M121.1 688.8 L134.4 701.2 L147.7 713.1 L161.0 724.4 L174.3 735.3 L187.5 745.7 L200.8 755.8 L214.1 765.4 L227.4 774.6 L240.7 783.5 L254.0 792.1 L267.3 800.4 L280.6 808.3 L293.8 816.0 L307.1 823.5 L320.4 830.7 L333.7 837.6 L347.0 844.3 L360.3 850.9 L373.6 857.2 L386.9 863.4 L400.2 869.4 L413.4 875.3 L426.7 881.0 L440.0 886.5 L453.3 891.9 L466.6 897.2 L479.9 902.3 L493.2 907.3 L506.5 912.2 L519.8 917.0 L533.0 921.7 L546.3 926.2 L559.6 930.7 L572.9 935.1 L586.2 939.3 L599.5 943.5 L612.8 947.6 L626.1 951.6 L639.3 955.5 L652.6 959.4 L665.9 963.1 L679.2 966.8 L692.5 970.4 L705.8 974.0 L719.1 977.4 L732.4 980.8 L745.7 984.1 L758.9 987.4 L772.2 990.5 L785.5 993.6 L798.8 996.7 L812.1 999.6 L825.4 1002.5 L838.7 1005.3 L852.0 1008.0 L865.2 1010.7 L878.5 1013.2 L891.8 1015.7 L905.1 1018.1 L918.4 1020.5 L918.4 1029.4 L905.1 1026.4 L891.8 1023.4 L878.5 1020.4 L865.2 1017.4 L852.0 1014.3 L838.7 1011.2 L825.4 1008.1 L812.1 1005.0 L798.8 1001.9 L785.5 998.6 L772.2 995.4 L758.9 992.1 L745.7 988.7 L732.4 985.3 L719.1 981.8 L705.8 978.3 L692.5 974.7 L679.2 971.0 L665.9 967.3 L652.6 963.5 L639.3 959.6 L626.1 955.6 L612.8 951.6 L599.5 947.5 L586.2 943.3 L572.9 939.1 L559.6 934.7 L546.3 930.2 L533.0 925.7 L519.8 921.0 L506.5 916.2 L493.2 911.3 L479.9 906.3 L466.6 901.2 L453.3 895.9 L440.0 890.5 L426.7 885.0 L413.4 879.3 L400.2 873.4 L386.9 867.4 L373.6 861.2 L360.3 854.9 L347.0 848.3 L333.7 841.6 L320.4 834.7 L307.1 827.5 L293.8 820.1 L280.6 812.5 L267.3 804.6 L254.0 796.4 L240.7 788.0 L227.4 779.3 L214.1 770.2 L200.8 760.8 L187.5 751.0 L174.3 740.8 L161.0 730.1 L147.7 719.0 L134.4 707.4 L121.1 695.2Z" fill="#008c05" fill-opacity="0.23" stroke="none"/>
<path d="M121.1 692.2 L134.4 704.5 L147.7 716.2 L161.0 727.4 L174.3 738.2 L187.5 748.5 L200.8 758.4 L214.1 767.9 L227.4 777.0 L240.7 785.8 L254.0 794.3 L267.3 802.5 L280.6 810.4 L293.8 818.1 L307.1 825.5 L320.4 832.7 L333.7 839.6 L347.0 846.3 L360.3 852.9 L373.6 859.2 L386.9 865.4 L400.2 871.4 L413.4 877.3 L426.7 883.0 L440.0 888.5 L453.3 893.9 L466.6 899.2 L479.9 904.3 L493.2 909.3 L506.5 914.2 L519.8 919.0 L533.0 923.7 L546.3 928.2 L559.6 932.7 L572.9 937.1 L586.2 941.3 L599.5 945.5 L612.8 949.6 L626.1 953.6 L639.3 957.6 L652.6 961.4 L665.9 965.2 L679.2 968.9 L692.5 972.6 L705.8 976.1 L719.1 979.6 L732.4 983.1 L745.7 986.5 L758.9 989.8 L772.2 993.1 L785.5 996.3 L798.8 999.4 L812.1 1002.5 L825.4 1005.6 L838.7 1008.6 L852.0 1011.6 L865.2 1014.5 L878.5 1017.3 L891.8 1020.2 L905.1 1022.9 L918.4 1025.7" fill="none" stroke="#008c05" stroke-width="2.7"/>
<path d="M121.1 726.1 L134.4 739.2 L147.7 751.7 L161.0 763.6 L174.3 775.1 L187.5 786.1 L200.8 796.7 L214.1 806.9 L227.4 816.7 L240.7 826.2 L254.0 835.4 L267.3 844.2 L280.6 852.8 L293.8 861.1 L307.1 869.1 L320.4 876.9 L333.7 884.4 L347.0 891.8 L360.3 898.9 L373.6 905.8 L386.9 912.6 L400.2 919.1 L413.4 925.6 L426.7 931.8 L440.0 937.9 L453.3 943.8 L466.6 949.6 L479.9 955.3 L493.2 960.8 L506.5 966.2 L519.8 971.5 L533.0 976.6 L546.3 981.7 L559.6 986.6 L572.9 991.4 L586.2 996.1 L599.5 1000.7 L612.8 1005.2 L626.1 1009.6 L639.3 1014.0 L652.6 1018.2 L665.9 1022.4 L679.2 1026.5 L692.5 1030.5 L705.8 1034.5 L719.1 1038.4 L732.4 1042.3 L745.7 1046.1 L758.9 1049.8 L772.2 1053.4 L785.5 1057.0 L798.8 1060.5 L812.1 1064.0 L825.4 1067.4 L838.7 1070.8 L852.0 1074.1 L865.2 1077.3 L878.5 1080.5 L891.8 1083.7 L905.1 1086.8 L918.4 1089.8 L918.4 1093.8 L905.1 1090.8 L891.8 1087.7 L878.5 1084.5 L865.2 1081.3 L852.0 1078.1 L838.7 1074.8 L825.4 1071.4 L812.1 1068.0 L798.8 1064.5 L785.5 1061.0 L772.2 1057.4 L758.9 1053.8 L745.7 1050.1 L732.4 1046.3 L719.1 1042.4 L705.8 1038.5 L692.5 1034.5 L679.2 1030.4 L665.9 1026.2 L652.6 1022.0 L639.3 1017.6 L626.1 1013.2 L612.8 1008.7 L599.5 1004.1 L586.2 999.4 L572.9 994.6 L559.6 989.7 L546.3 984.7 L533.0 979.7 L519.8 974.5 L506.5 969.2 L493.2 963.8 L479.9 958.3 L466.6 952.6 L453.3 946.8 L440.0 940.9 L426.7 934.8 L413.4 928.6 L400.2 922.1 L386.9 915.6 L373.6 908.8 L360.3 901.9 L347.0 894.8 L333.7 887.4 L320.4 879.9 L307.1 872.1 L293.8 864.1 L280.6 855.8 L267.3 847.3 L254.0 838.5 L240.7 829.4 L227.4 820.0 L214.1 810.2 L200.8 800.1 L187.5 789.6 L174.3 778.7 L161.0 767.3 L147.7 755.4 L134.4 743.1 L121.1 730.1Z" fill="#f20ac8" fill-opacity="0.23" stroke="none"/>
<path d="M121.1 728.1 L134.4 741.1 L147.7 753.5 L161.0 765.5 L174.3 776.9 L187.5 787.8 L200.8 798.4 L214.1 808.6 L227.4 818.4 L240.7 827.8 L254.0 836.9 L267.3 845.8 L280.6 854.3 L293.8 862.6 L307.1 870.6 L320.4 878.4 L333.7 885.9 L347.0 893.3 L360.3 900.4 L373.6 907.3 L386.9 914.1 L400.2 920.6 L413.4 927.1 L426.7 933.3 L440.0 939.4 L453.3 945.3 L466.6 951.1 L479.9 956.8 L493.2 962.3 L506.5 967.7 L519.8 973.0 L533.0 978.1 L546.3 983.2 L559.6 988.2 L572.9 993.0 L586.2 997.7 L599.5 1002.4 L612.8 1007.0 L626.1 1011.4 L639.3 1015.8 L652.6 1020.1 L665.9 1024.3 L679.2 1028.5 L692.5 1032.5 L705.8 1036.5 L719.1 1040.4 L732.4 1044.3 L745.7 1048.1 L758.9 1051.8 L772.2 1055.4 L785.5 1059.0 L798.8 1062.5 L812.1 1066.0 L825.4 1069.4 L838.7 1072.8 L852.0 1076.1 L865.2 1079.3 L878.5 1082.5 L891.8 1085.7 L905.1 1088.8 L918.4 1091.8" fill="none" stroke="#f20ac8" stroke-width="2.7"/>
</g>
<text class="t" transform="translate(547.0 659.0) scale(0.96 1)">σ = 1180 S/cm</text>
<path d="M550.2 689.0 h41.8" stroke="#f21010" stroke-width="2.7" fill="none"/>
<text class="t" transform="translate(603.0 697.1) scale(0.96 1)">N = 7.4 × 10<tspan class="sup" dx="3.5" dy="-17.5">20</tspan><tspan dx="1.3" dy="17.5" letter-spacing="0.22"> ; <tspan class="it">μ</tspan> = 10</tspan></text>
<path d="M550.0 727.0 h41.5" stroke="#0a3cf5" stroke-width="7.5" stroke-dasharray="14 5.5" fill="none"/>
<text class="t" transform="translate(603.0 735.1) scale(0.96 1)">N = 1.8 × 10<tspan class="sup" dx="3.5" dy="-17.5">20</tspan><tspan dx="1.3" dy="17.5" letter-spacing="0.22"> ; <tspan class="it">μ</tspan> = 40</tspan></text>
<path d="M550.2 765.0 h41.8" stroke="#008c05" stroke-width="2.7" fill="none"/>
<text class="t" transform="translate(603.0 773.1) scale(0.96 1)">N = 7.4 × 10<tspan class="sup" dx="3.5" dy="-17.5">19</tspan><tspan dx="1.3" dy="17.5" letter-spacing="0.22"> ; <tspan class="it">μ</tspan> = 100</tspan></text>
<path d="M550.2 803.0 h41.8" stroke="#f20ac8" stroke-width="2.7" fill="none"/>
<text class="t" transform="translate(603.0 811.1) scale(0.96 1)">N = 3.7 × 10<tspan class="sup" dx="3.5" dy="-17.5">19</tspan><tspan dx="1.3" dy="17.5" letter-spacing="0.22"> ; <tspan class="it">μ</tspan> = 200</tspan></text>
</g>
<g id="panel-d">
<clipPath id="clip-d"><rect x="1074.0" y="603.8" width="794.8" height="448.3"/></clipPath>
<rect x="1074.0" y="603.8" width="793.6" height="448.3" fill="none" stroke="#000" stroke-width="2.7"/>
<path d="M1074.0 1052.1v-20.0M1074.0 603.8v20.0M1113.7 1052.1v-10.3M1113.7 603.8v10.3M1153.4 1052.1v-10.3M1153.4 603.8v10.3M1193.0 1052.1v-10.3M1193.0 603.8v10.3M1232.7 1052.1v-10.3M1232.7 603.8v10.3M1272.4 1052.1v-20.0M1272.4 603.8v20.0M1312.1 1052.1v-10.3M1312.1 603.8v10.3M1351.8 1052.1v-10.3M1351.8 603.8v10.3M1391.4 1052.1v-10.3M1391.4 603.8v10.3M1431.1 1052.1v-10.3M1431.1 603.8v10.3M1470.8 1052.1v-20.0M1470.8 603.8v20.0M1510.5 1052.1v-10.3M1510.5 603.8v10.3M1550.2 1052.1v-10.3M1550.2 603.8v10.3M1589.8 1052.1v-10.3M1589.8 603.8v10.3M1629.5 1052.1v-10.3M1629.5 603.8v10.3M1669.2 1052.1v-20.0M1669.2 603.8v20.0M1708.9 1052.1v-10.3M1708.9 603.8v10.3M1748.6 1052.1v-10.3M1748.6 603.8v10.3M1788.2 1052.1v-10.3M1788.2 603.8v10.3M1827.9 1052.1v-10.3M1827.9 603.8v10.3M1867.6 1052.1v-20.0M1867.6 603.8v20.0M1074.0 1052.1h20.0M1867.6 1052.1h-20.0M1074.0 1029.7h10.3M1867.6 1029.7h-10.3M1074.0 1007.3h10.3M1867.6 1007.3h-10.3M1074.0 984.9h10.3M1867.6 984.9h-10.3M1074.0 962.4h10.3M1867.6 962.4h-10.3M1074.0 940.0h20.0M1867.6 940.0h-20.0M1074.0 917.6h10.3M1867.6 917.6h-10.3M1074.0 895.2h10.3M1867.6 895.2h-10.3M1074.0 872.8h10.3M1867.6 872.8h-10.3M1074.0 850.4h10.3M1867.6 850.4h-10.3M1074.0 827.9h20.0M1867.6 827.9h-20.0M1074.0 805.5h10.3M1867.6 805.5h-10.3M1074.0 783.1h10.3M1867.6 783.1h-10.3M1074.0 760.7h10.3M1867.6 760.7h-10.3M1074.0 738.3h10.3M1867.6 738.3h-10.3M1074.0 715.9h20.0M1867.6 715.9h-20.0M1074.0 693.5h10.3M1867.6 693.5h-10.3M1074.0 671.0h10.3M1867.6 671.0h-10.3M1074.0 648.6h10.3M1867.6 648.6h-10.3M1074.0 626.2h10.3M1867.6 626.2h-10.3M1074.0 603.8h20.0M1867.6 603.8h-20.0" stroke="#000" stroke-width="2.4" fill="none"/>
<text class="t" transform="translate(1074.0 1087.1) scale(0.96 1)" text-anchor="middle">1.0</text>
<text class="t" transform="translate(1272.4 1087.1) scale(0.96 1)" text-anchor="middle">1.5</text>
<text class="t" transform="translate(1470.8 1087.1) scale(0.96 1)" text-anchor="middle">2.0</text>
<text class="t" transform="translate(1669.2 1087.1) scale(0.96 1)" text-anchor="middle">2.5</text>
<text class="t" transform="translate(1867.6 1087.1) scale(0.96 1)" text-anchor="middle">3.0</text>
<text class="t" transform="translate(1062.8 1060.7) scale(0.96 1)" text-anchor="end">15</text>
<text class="t" transform="translate(1062.8 948.6) scale(0.96 1)" text-anchor="end">20</text>
<text class="t" transform="translate(1062.8 836.5) scale(0.96 1)" text-anchor="end">25</text>
<text class="t" transform="translate(1062.8 724.5) scale(0.96 1)" text-anchor="end">30</text>
<text class="t" transform="translate(1062.8 612.4) scale(0.96 1)" text-anchor="end">35</text>
<text class="t" transform="translate(1470.8 1144.3) scale(0.96 1)" text-anchor="middle">Frequency (THz)</text>
<text class="t" transform="translate(1002.7 828.9) rotate(-90) scale(0.96 1)" text-anchor="middle">Refractive index</text>
<text class="pl" transform="translate(965.5 615.8) scale(0.97 1)">d</text>
<g clip-path="url(#clip-d)">
<path d="M1076.8 636.9 L1090.0 648.6 L1103.2 659.8 L1116.3 670.4 L1129.5 680.6 L1142.7 690.3 L1155.9 699.7 L1169.1 708.6 L1182.2 717.2 L1195.4 725.4 L1208.6 733.3 L1221.8 740.9 L1235.0 748.3 L1248.1 755.3 L1261.3 762.2 L1274.5 768.7 L1287.7 775.0 L1300.9 781.0 L1314.0 786.8 L1327.2 792.2 L1340.4 797.5 L1353.6 802.5 L1366.8 807.4 L1379.9 812.1 L1393.1 816.7 L1406.3 821.2 L1419.5 825.6 L1432.7 829.9 L1445.8 834.0 L1459.0 837.9 L1472.2 841.6 L1485.4 844.8 L1498.6 847.7 L1511.7 850.2 L1524.9 852.7 L1538.1 855.1 L1551.3 857.8 L1564.5 860.7 L1577.6 863.6 L1590.8 866.6 L1604.0 869.6 L1617.2 872.5 L1630.4 875.4 L1643.5 878.2 L1656.7 880.9 L1669.9 883.5 L1683.1 886.0 L1696.3 888.5 L1709.4 890.8 L1722.6 893.2 L1735.8 895.4 L1749.0 897.6 L1762.2 899.8 L1775.3 901.9 L1788.5 903.9 L1801.7 905.9 L1814.9 907.8 L1828.1 909.6 L1841.2 911.5 L1854.4 913.2 L1867.6 914.9 L1867.6 1010.8 L1854.4 1008.2 L1841.2 1005.6 L1828.1 1002.9 L1814.9 1000.2 L1801.7 997.5 L1788.5 994.6 L1775.3 991.8 L1762.2 988.9 L1749.0 985.9 L1735.8 983.0 L1722.6 979.9 L1709.4 976.8 L1696.3 973.7 L1683.1 970.4 L1669.9 967.0 L1656.7 963.5 L1643.5 959.7 L1630.4 955.7 L1617.2 951.5 L1604.0 947.3 L1590.8 943.2 L1577.6 939.1 L1564.5 935.1 L1551.3 931.3 L1538.1 927.5 L1524.9 923.6 L1511.7 919.6 L1498.6 915.5 L1485.4 911.4 L1472.2 907.0 L1459.0 902.5 L1445.8 897.6 L1432.7 892.5 L1419.5 887.1 L1406.3 881.7 L1393.1 876.2 L1379.9 870.6 L1366.8 864.7 L1353.6 858.7 L1340.4 852.5 L1327.2 846.2 L1314.0 839.8 L1300.9 833.3 L1287.7 826.8 L1274.5 820.2 L1261.3 813.5 L1248.1 806.6 L1235.0 799.5 L1221.8 792.2 L1208.6 784.6 L1195.4 776.8 L1182.2 768.7 L1169.1 760.4 L1155.9 751.7 L1142.7 742.8 L1129.5 733.5 L1116.3 723.8 L1103.2 713.7 L1090.0 703.3 L1076.8 692.3Z" fill="#f21010" fill-opacity="0.23" stroke="none"/>
<path d="M1076.8 662.5 L1090.0 674.2 L1103.2 685.4 L1116.3 696.1 L1129.5 706.3 L1142.7 716.1 L1155.9 725.4 L1169.1 734.4 L1182.2 743.0 L1195.4 751.3 L1208.6 759.3 L1221.8 767.0 L1235.0 774.5 L1248.1 781.6 L1261.3 788.6 L1274.5 795.3 L1287.7 801.7 L1300.9 808.0 L1314.0 814.1 L1327.2 820.0 L1340.4 825.7 L1353.6 831.3 L1366.8 836.6 L1379.9 841.9 L1393.1 847.0 L1406.3 851.9 L1419.5 856.8 L1432.7 861.5 L1445.8 866.0 L1459.0 870.5 L1472.2 874.8 L1485.4 879.1 L1498.6 883.2 L1511.7 887.3 L1524.9 891.2 L1538.1 895.1 L1551.3 898.8 L1564.5 902.5 L1577.6 906.1 L1590.8 909.6 L1604.0 913.1 L1617.2 916.5 L1630.4 919.8 L1643.5 923.0 L1656.7 926.2 L1669.9 929.3 L1683.1 932.4 L1696.3 935.4 L1709.4 938.3 L1722.6 941.2 L1735.8 944.0 L1749.0 946.8 L1762.2 949.5 L1775.3 952.2 L1788.5 954.8 L1801.7 957.4 L1814.9 959.9 L1828.1 962.4 L1841.2 964.9 L1854.4 967.3 L1867.6 969.6" fill="none" stroke="#f21010" stroke-width="2.7"/>
<path d="M1076.8 647.8 L1090.0 659.5 L1103.2 670.8 L1116.3 681.5 L1129.5 691.7 L1142.7 701.5 L1155.9 710.9 L1169.1 719.9 L1182.2 728.5 L1195.4 736.9 L1208.6 744.9 L1221.8 752.6 L1235.0 760.0 L1248.1 767.2 L1261.3 774.1 L1274.5 780.8 L1287.7 787.3 L1300.9 793.5 L1314.0 799.6 L1327.2 805.6 L1340.4 811.3 L1353.6 816.8 L1366.8 822.2 L1379.9 827.3 L1393.1 832.3 L1406.3 837.0 L1419.5 841.1 L1432.7 844.8 L1445.8 848.3 L1459.0 851.6 L1472.2 855.0 L1485.4 858.4 L1498.6 861.6 L1511.7 864.8 L1524.9 867.9 L1538.1 871.1 L1551.3 874.3 L1564.5 877.6 L1577.6 881.0 L1590.8 884.3 L1604.0 887.6 L1617.2 890.8 L1630.4 894.0 L1643.5 897.1 L1656.7 900.1 L1669.9 903.0 L1683.1 905.8 L1696.3 908.5 L1709.4 911.1 L1722.6 913.6 L1735.8 916.0 L1749.0 918.5 L1762.2 920.8 L1775.3 923.2 L1788.5 925.5 L1801.7 927.8 L1814.9 930.0 L1828.1 932.2 L1841.2 934.3 L1854.4 936.4 L1867.6 938.5 L1867.6 1023.9 L1854.4 1021.3 L1841.2 1018.8 L1828.1 1016.2 L1814.9 1013.5 L1801.7 1010.8 L1788.5 1008.0 L1775.3 1005.2 L1762.2 1002.4 L1749.0 999.5 L1735.8 996.6 L1722.6 993.6 L1709.4 990.5 L1696.3 987.4 L1683.1 984.2 L1669.9 980.9 L1656.7 977.5 L1643.5 974.0 L1630.4 970.2 L1617.2 966.4 L1604.0 962.4 L1590.8 958.3 L1577.6 954.2 L1564.5 950.1 L1551.3 945.9 L1538.1 941.6 L1524.9 937.3 L1511.7 932.8 L1498.6 928.3 L1485.4 923.6 L1472.2 918.8 L1459.0 913.9 L1445.8 908.7 L1432.7 903.4 L1419.5 898.0 L1406.3 892.5 L1393.1 886.9 L1379.9 881.1 L1366.8 875.1 L1353.6 869.0 L1340.4 862.7 L1327.2 856.3 L1314.0 849.8 L1300.9 843.2 L1287.7 836.5 L1274.5 829.8 L1261.3 823.0 L1248.1 815.9 L1235.0 808.6 L1221.8 801.0 L1208.6 793.2 L1195.4 785.1 L1182.2 776.6 L1169.1 767.9 L1155.9 758.8 L1142.7 749.4 L1129.5 739.6 L1116.3 729.4 L1103.2 718.7 L1090.0 707.5 L1076.8 695.8Z" fill="#0a3cf5" fill-opacity="0.23" stroke="none"/>
<path d="M1076.8 672.1 L1090.0 684.0 L1103.2 695.3 L1116.3 706.2 L1129.5 716.5 L1142.7 726.5 L1155.9 736.0 L1169.1 745.1 L1182.2 753.9 L1195.4 762.4 L1208.6 770.5 L1221.8 778.4 L1235.0 786.0 L1248.1 793.3 L1261.3 800.4 L1274.5 807.2 L1287.7 813.8 L1300.9 820.2 L1314.0 826.5 L1327.2 832.5 L1340.4 838.3 L1353.6 844.0 L1366.8 849.6 L1379.9 854.9 L1393.1 860.2 L1406.3 865.2 L1419.5 870.2 L1432.7 875.0 L1445.8 879.7 L1459.0 884.3 L1472.2 888.8 L1485.4 893.2 L1498.6 897.4 L1511.7 901.6 L1524.9 905.7 L1538.1 909.7 L1551.3 913.5 L1564.5 917.4 L1577.6 921.1 L1590.8 924.7 L1604.0 928.3 L1617.2 931.8 L1630.4 935.2 L1643.5 938.6 L1656.7 941.9 L1669.9 945.1 L1683.1 948.3 L1696.3 951.4 L1709.4 954.5 L1722.6 957.5 L1735.8 960.4 L1749.0 963.3 L1762.2 966.1 L1775.3 968.9 L1788.5 971.7 L1801.7 974.4 L1814.9 977.0 L1828.1 979.6 L1841.2 982.2 L1854.4 984.7 L1867.6 987.2" fill="none" stroke="#0a3cf5" stroke-width="7.5" stroke-dasharray="14 5.5"/>
<path d="M1076.8 678.2 L1090.0 690.3 L1103.2 701.9 L1116.3 712.9 L1129.5 723.5 L1142.7 733.6 L1155.9 743.2 L1169.1 752.5 L1182.2 761.4 L1195.4 769.9 L1208.6 778.1 L1221.8 786.0 L1235.0 793.7 L1248.1 801.0 L1261.3 808.1 L1274.5 815.0 L1287.7 821.6 L1300.9 828.0 L1314.0 834.2 L1327.2 840.1 L1340.4 845.9 L1353.6 851.5 L1366.8 856.9 L1379.9 862.1 L1393.1 867.2 L1406.3 872.2 L1419.5 877.1 L1432.7 881.8 L1445.8 886.5 L1459.0 890.9 L1472.2 895.0 L1485.4 898.5 L1498.6 901.2 L1511.7 903.6 L1524.9 905.8 L1538.1 908.3 L1551.3 911.3 L1564.5 915.0 L1577.6 918.8 L1590.8 922.6 L1604.0 926.3 L1617.2 929.9 L1630.4 933.5 L1643.5 937.1 L1656.7 940.6 L1669.9 944.1 L1683.1 947.6 L1696.3 951.0 L1709.4 954.3 L1722.6 957.6 L1735.8 960.8 L1749.0 964.0 L1762.2 967.1 L1775.3 970.2 L1788.5 973.2 L1801.7 976.2 L1814.9 979.1 L1828.1 982.0 L1841.2 984.8 L1854.4 987.6 L1867.6 990.4 L1867.6 1053.7 L1854.4 1051.1 L1841.2 1048.6 L1828.1 1045.9 L1814.9 1043.3 L1801.7 1040.6 L1788.5 1037.8 L1775.3 1035.0 L1762.2 1032.1 L1749.0 1029.3 L1735.8 1026.3 L1722.6 1023.4 L1709.4 1020.3 L1696.3 1017.2 L1683.1 1013.9 L1669.9 1010.5 L1656.7 1007.0 L1643.5 1003.1 L1630.4 999.1 L1617.2 995.0 L1604.0 990.7 L1590.8 986.3 L1577.6 981.8 L1564.5 977.3 L1551.3 972.8 L1538.1 968.2 L1524.9 963.6 L1511.7 958.8 L1498.6 954.0 L1485.4 949.0 L1472.2 943.9 L1459.0 938.7 L1445.8 933.4 L1432.7 927.9 L1419.5 922.3 L1406.3 916.6 L1393.1 910.8 L1379.9 904.8 L1366.8 898.6 L1353.6 892.2 L1340.4 885.7 L1327.2 879.0 L1314.0 872.3 L1300.9 865.4 L1287.7 858.4 L1274.5 851.4 L1261.3 844.2 L1248.1 836.9 L1235.0 829.3 L1221.8 821.6 L1208.6 813.6 L1195.4 805.5 L1182.2 797.0 L1169.1 788.3 L1155.9 779.3 L1142.7 770.0 L1129.5 760.3 L1116.3 750.2 L1103.2 739.8 L1090.0 728.9 L1076.8 717.5Z" fill="#008c05" fill-opacity="0.23" stroke="none"/>
<path d="M1076.8 692.3 L1090.0 704.5 L1103.2 716.3 L1116.3 727.5 L1129.5 738.2 L1142.7 748.5 L1155.9 758.4 L1169.1 767.9 L1182.2 777.0 L1195.4 785.8 L1208.6 794.3 L1221.8 802.5 L1235.0 810.4 L1248.1 818.1 L1261.3 825.5 L1274.5 832.7 L1287.7 839.6 L1300.9 846.4 L1314.0 852.9 L1327.2 859.3 L1340.4 865.4 L1353.6 871.4 L1366.8 877.3 L1379.9 883.0 L1393.1 888.5 L1406.3 893.9 L1419.5 899.2 L1432.7 904.3 L1445.8 909.3 L1459.0 914.2 L1472.2 919.0 L1485.4 923.7 L1498.6 928.2 L1511.7 932.7 L1524.9 937.1 L1538.1 941.3 L1551.3 945.5 L1564.5 949.6 L1577.6 953.6 L1590.8 957.6 L1604.0 961.4 L1617.2 965.2 L1630.4 968.9 L1643.5 972.6 L1656.7 976.1 L1669.9 979.6 L1683.1 983.1 L1696.3 986.5 L1709.4 989.8 L1722.6 993.1 L1735.8 996.3 L1749.0 999.4 L1762.2 1002.5 L1775.3 1005.6 L1788.5 1008.6 L1801.7 1011.6 L1814.9 1014.5 L1828.1 1017.3 L1841.2 1020.2 L1854.4 1022.9 L1867.6 1025.7" fill="none" stroke="#008c05" stroke-width="2.7"/>
<path d="M1076.8 718.3 L1090.0 731.4 L1103.2 743.9 L1116.3 755.9 L1129.5 767.4 L1142.7 778.4 L1155.9 789.0 L1169.1 799.2 L1182.2 809.0 L1195.4 818.5 L1208.6 827.6 L1221.8 836.5 L1235.0 845.0 L1248.1 853.3 L1261.3 861.3 L1274.5 869.1 L1287.7 876.5 L1300.9 883.7 L1314.0 890.5 L1327.2 897.0 L1340.4 903.3 L1353.6 909.4 L1366.8 915.4 L1379.9 921.2 L1393.1 927.0 L1406.3 932.7 L1419.5 938.3 L1432.7 943.8 L1445.8 949.2 L1459.0 954.4 L1472.2 959.5 L1485.4 964.2 L1498.6 968.6 L1511.7 972.8 L1524.9 976.8 L1538.1 980.7 L1551.3 984.5 L1564.5 988.3 L1577.6 991.9 L1590.8 995.3 L1604.0 998.5 L1617.2 1001.8 L1630.4 1005.1 L1643.5 1008.4 L1656.7 1012.0 L1669.9 1015.7 L1683.1 1019.7 L1696.3 1023.8 L1709.4 1028.0 L1722.6 1032.1 L1735.8 1036.3 L1749.0 1040.4 L1762.2 1044.3 L1775.3 1048.1 L1788.5 1051.8 L1801.7 1055.5 L1814.9 1059.1 L1828.1 1062.6 L1841.2 1066.1 L1854.4 1069.5 L1867.6 1072.8 L1867.6 1113.8 L1854.4 1110.8 L1841.2 1107.7 L1828.1 1104.5 L1814.9 1101.3 L1801.7 1098.1 L1788.5 1094.8 L1775.3 1091.4 L1762.2 1088.0 L1749.0 1084.5 L1735.8 1081.0 L1722.6 1077.3 L1709.4 1073.6 L1696.3 1069.8 L1683.1 1066.0 L1669.9 1062.0 L1656.7 1058.0 L1643.5 1053.8 L1630.4 1049.4 L1617.2 1045.0 L1604.0 1040.4 L1590.8 1035.7 L1577.6 1031.0 L1564.5 1026.1 L1551.3 1021.2 L1538.1 1016.2 L1524.9 1011.1 L1511.7 1005.9 L1498.6 1000.5 L1485.4 995.1 L1472.2 989.6 L1459.0 984.0 L1445.8 978.3 L1432.7 972.5 L1419.5 966.5 L1406.3 960.5 L1393.1 954.2 L1379.9 947.8 L1366.8 941.3 L1353.6 934.5 L1340.4 927.6 L1327.2 920.6 L1314.0 913.3 L1300.9 906.0 L1287.7 898.5 L1274.5 890.9 L1261.3 883.1 L1248.1 875.1 L1235.0 866.9 L1221.8 858.5 L1208.6 849.7 L1195.4 840.8 L1182.2 831.5 L1169.1 821.9 L1155.9 812.0 L1142.7 801.7 L1129.5 791.1 L1116.3 780.0 L1103.2 768.5 L1090.0 756.5 L1076.8 744.0Z" fill="#f20ac8" fill-opacity="0.23" stroke="none"/>
<path d="M1076.8 728.2 L1090.0 741.1 L1103.2 753.6 L1116.3 765.5 L1129.5 776.9 L1142.7 787.9 L1155.9 798.4 L1169.1 808.6 L1182.2 818.4 L1195.4 827.8 L1208.6 837.0 L1221.8 845.8 L1235.0 854.3 L1248.1 862.6 L1261.3 870.6 L1274.5 878.4 L1287.7 885.9 L1300.9 893.3 L1314.0 900.4 L1327.2 907.3 L1340.4 914.1 L1353.6 920.7 L1366.8 927.1 L1379.9 933.3 L1393.1 939.4 L1406.3 945.3 L1419.5 951.1 L1432.7 956.8 L1445.8 962.3 L1459.0 967.7 L1472.2 973.0 L1485.4 978.2 L1498.6 983.2 L1511.7 988.2 L1524.9 993.0 L1538.1 997.8 L1551.3 1002.4 L1564.5 1007.0 L1577.6 1011.4 L1590.8 1015.8 L1604.0 1020.1 L1617.2 1024.3 L1630.4 1028.5 L1643.5 1032.5 L1656.7 1036.5 L1669.9 1040.4 L1683.1 1044.3 L1696.3 1048.1 L1709.4 1051.8 L1722.6 1055.4 L1735.8 1059.0 L1749.0 1062.5 L1762.2 1066.0 L1775.3 1069.4 L1788.5 1072.8 L1801.7 1076.1 L1814.9 1079.3 L1828.1 1082.5 L1841.2 1085.7 L1854.4 1088.8 L1867.6 1091.8" fill="none" stroke="#f20ac8" stroke-width="2.7"/>
</g>
<path d="M1669.2 838.3 V1033.1" stroke="#000" stroke-width="3.1" stroke-dasharray="12.6 6.85" fill="none"/>
<rect x="1600.7" y="647.7" width="226.8" height="183.1" fill="#fff" stroke="#000" stroke-width="3"/>
<text class="in" transform="translate(1589.2 655.5) scale(0.96 1)" text-anchor="end">24</text>
<path d="M1600.7 684.1 H1619.2" stroke="#000" stroke-width="3" fill="none"/>
<path d="M1621.7 684.1 H1826.5" stroke="#666" stroke-width="1.2" stroke-dasharray="2.4 3.6" fill="none"/>
<text class="in" transform="translate(1589.2 691.9) scale(0.96 1)" text-anchor="end">22</text>
<path d="M1600.7 720.9 H1619.2" stroke="#000" stroke-width="3" fill="none"/>
<path d="M1621.7 720.9 H1826.5" stroke="#666" stroke-width="1.2" stroke-dasharray="2.4 3.6" fill="none"/>
<text class="in" transform="translate(1589.2 728.7) scale(0.96 1)" text-anchor="end">20</text>
<path d="M1600.7 757.4 H1619.2" stroke="#000" stroke-width="3" fill="none"/>
<path d="M1621.7 757.4 H1826.5" stroke="#666" stroke-width="1.2" stroke-dasharray="2.4 3.6" fill="none"/>
<text class="in" transform="translate(1589.2 765.2) scale(0.96 1)" text-anchor="end">18</text>
<path d="M1600.7 794.2 H1619.2" stroke="#000" stroke-width="3" fill="none"/>
<path d="M1621.7 794.2 H1826.5" stroke="#666" stroke-width="1.2" stroke-dasharray="2.4 3.6" fill="none"/>
<text class="in" transform="translate(1589.2 802.0) scale(0.96 1)" text-anchor="end">16</text>
<text class="in" transform="translate(1589.2 838.6) scale(0.96 1)" text-anchor="end">14</text>
<rect x="1620.2" y="708.1" width="9.6" height="9.6" fill="none" stroke="#f21010" stroke-width="1.8"/>
<path d="M1621.0 710.1h8M1621.0 715.7h8M1625.0 710.1V715.7" stroke="#f21010" stroke-width="1.6" fill="none"/>
<path d="M1732.5 675.5V743.7M1727.0 675.5h11M1727.0 743.7h11" stroke="#f21010" stroke-width="2.2" fill="none"/>
<circle cx="1732.5" cy="712.9" r="5.5" fill="#f21010"/>
<rect x="1644.0" y="719.3" width="9.6" height="9.6" fill="none" stroke="#0a3cf5" stroke-width="1.8"/>
<path d="M1644.8 721.3h8M1644.8 726.9h8M1648.8 721.3V726.9" stroke="#0a3cf5" stroke-width="1.6" fill="none"/>
<path d="M1756.4 689.7V753.3M1750.9 689.7h11M1750.9 753.3h11" stroke="#0a3cf5" stroke-width="2.2" fill="none"/>
<circle cx="1756.4" cy="724.1" r="5.5" fill="#0a3cf5"/>
<rect x="1667.9" y="744.2" width="9.6" height="9.6" fill="none" stroke="#008c05" stroke-width="1.8"/>
<path d="M1668.7 746.2h8M1668.7 751.8h8M1672.7 746.2V751.8" stroke="#008c05" stroke-width="1.6" fill="none"/>
<path d="M1780.2 720.0V774.2M1774.7 720.0h11M1774.7 774.2h11" stroke="#008c05" stroke-width="2.2" fill="none"/>
<circle cx="1780.2" cy="749.0" r="5.5" fill="#008c05"/>
<rect x="1691.8" y="788.7" width="9.6" height="9.6" fill="none" stroke="#f20ac8" stroke-width="1.8"/>
<path d="M1692.6 791.3h8M1692.6 795.7h8M1696.6 791.3V795.7" stroke="#f20ac8" stroke-width="1.6" fill="none"/>
<path d="M1804.1 773.3V811.1M1798.6 773.3h11M1798.6 811.1h11" stroke="#f20ac8" stroke-width="2.2" fill="none"/>
<circle cx="1804.1" cy="793.5" r="5.5" fill="#f20ac8"/>
</g>
<g id="panel-e">
<clipPath id="clip-e"><rect x="115.3" y="1181.0" width="800.3" height="448.9"/></clipPath>
<rect x="115.3" y="1181.0" width="799.1" height="448.9" fill="none" stroke="#000" stroke-width="2.7"/>
<path d="M115.3 1629.9v-20.0M115.3 1181.0v20.0M155.3 1629.9v-10.3M155.3 1181.0v10.3M195.2 1629.9v-10.3M195.2 1181.0v10.3M235.2 1629.9v-10.3M235.2 1181.0v10.3M275.1 1629.9v-10.3M275.1 1181.0v10.3M315.1 1629.9v-20.0M315.1 1181.0v20.0M355.0 1629.9v-10.3M355.0 1181.0v10.3M395.0 1629.9v-10.3M395.0 1181.0v10.3M434.9 1629.9v-10.3M434.9 1181.0v10.3M474.9 1629.9v-10.3M474.9 1181.0v10.3M514.9 1629.9v-20.0M514.9 1181.0v20.0M554.8 1629.9v-10.3M554.8 1181.0v10.3M594.8 1629.9v-10.3M594.8 1181.0v10.3M634.7 1629.9v-10.3M634.7 1181.0v10.3M674.7 1629.9v-10.3M674.7 1181.0v10.3M714.6 1629.9v-20.0M714.6 1181.0v20.0M754.6 1629.9v-10.3M754.6 1181.0v10.3M794.5 1629.9v-10.3M794.5 1181.0v10.3M834.5 1629.9v-10.3M834.5 1181.0v10.3M874.4 1629.9v-10.3M874.4 1181.0v10.3M914.4 1629.9v-20.0M914.4 1181.0v20.0M115.3 1629.9h20.0M914.4 1629.9h-20.0M115.3 1607.5h10.3M914.4 1607.5h-10.3M115.3 1585.0h10.3M914.4 1585.0h-10.3M115.3 1562.6h10.3M914.4 1562.6h-10.3M115.3 1540.1h10.3M914.4 1540.1h-10.3M115.3 1517.7h20.0M914.4 1517.7h-20.0M115.3 1495.2h10.3M914.4 1495.2h-10.3M115.3 1472.8h10.3M914.4 1472.8h-10.3M115.3 1450.3h10.3M914.4 1450.3h-10.3M115.3 1427.9h10.3M914.4 1427.9h-10.3M115.3 1405.5h20.0M914.4 1405.5h-20.0M115.3 1383.0h10.3M914.4 1383.0h-10.3M115.3 1360.6h10.3M914.4 1360.6h-10.3M115.3 1338.1h10.3M914.4 1338.1h-10.3M115.3 1315.7h10.3M914.4 1315.7h-10.3M115.3 1293.2h20.0M914.4 1293.2h-20.0M115.3 1270.8h10.3M914.4 1270.8h-10.3M115.3 1248.3h10.3M914.4 1248.3h-10.3M115.3 1225.9h10.3M914.4 1225.9h-10.3M115.3 1203.4h10.3M914.4 1203.4h-10.3M115.3 1181.0h20.0M914.4 1181.0h-20.0" stroke="#000" stroke-width="2.4" fill="none"/>
<text class="t" transform="translate(115.3 1664.9) scale(0.96 1)" text-anchor="middle">1.0</text>
<text class="t" transform="translate(315.1 1664.9) scale(0.96 1)" text-anchor="middle">1.5</text>
<text class="t" transform="translate(514.9 1664.9) scale(0.96 1)" text-anchor="middle">2.0</text>
<text class="t" transform="translate(714.6 1664.9) scale(0.96 1)" text-anchor="middle">2.5</text>
<text class="t" transform="translate(914.4 1664.9) scale(0.96 1)" text-anchor="middle">3.0</text>
<text class="t" transform="translate(103.3 1638.5) scale(0.96 1)" text-anchor="end">20</text>
<text class="t" transform="translate(103.3 1526.3) scale(0.96 1)" text-anchor="end">30</text>
<text class="t" transform="translate(103.3 1414.0) scale(0.96 1)" text-anchor="end">40</text>
<text class="t" transform="translate(103.3 1301.8) scale(0.96 1)" text-anchor="end">50</text>
<text class="t" transform="translate(103.3 1189.6) scale(0.96 1)" text-anchor="end">60</text>
<text class="t" transform="translate(514.9 1722.1) scale(0.96 1)" text-anchor="middle">Frequency (THz)</text>
<text class="t" transform="translate(44.0 1406.5) rotate(-90) scale(0.96 1)" text-anchor="middle">Refractive index</text>
<text class="pl" transform="translate(6.8 1193.0) scale(0.97 1)">e</text>
<g clip-path="url(#clip-e)">
<path d="M118.1 1271.2 L131.4 1280.6 L144.6 1289.5 L157.9 1298.1 L171.2 1306.3 L184.5 1314.1 L197.7 1321.6 L211.0 1328.9 L224.3 1335.8 L237.5 1342.4 L250.8 1348.9 L264.1 1355.0 L277.4 1361.0 L290.6 1366.7 L303.9 1372.3 L317.2 1377.6 L330.4 1382.8 L343.7 1387.8 L357.0 1392.7 L370.3 1397.4 L383.5 1402.0 L396.8 1406.4 L410.1 1410.7 L423.3 1414.9 L436.6 1419.0 L449.9 1423.0 L463.2 1426.8 L476.4 1430.6 L489.7 1434.2 L503.0 1437.8 L516.3 1441.3 L529.5 1444.7 L542.8 1448.0 L556.1 1451.2 L569.3 1454.3 L582.6 1457.3 L595.9 1460.2 L609.2 1463.1 L622.4 1465.9 L635.7 1468.6 L649.0 1471.3 L662.2 1473.9 L675.5 1476.4 L688.8 1478.8 L702.1 1481.3 L715.3 1483.6 L728.6 1485.9 L741.9 1488.1 L755.1 1490.2 L768.4 1492.2 L781.7 1494.2 L795.0 1496.1 L808.2 1497.9 L821.5 1499.7 L834.8 1501.3 L848.0 1503.0 L861.3 1504.6 L874.6 1506.1 L887.9 1507.6 L901.1 1509.0 L914.4 1510.4 L914.4 1527.7 L901.1 1525.7 L887.9 1523.7 L874.6 1521.6 L861.3 1519.5 L848.0 1517.4 L834.8 1515.2 L821.5 1513.0 L808.2 1510.8 L795.0 1508.6 L781.7 1506.2 L768.4 1503.9 L755.1 1501.5 L741.9 1499.1 L728.6 1496.6 L715.3 1494.1 L702.1 1491.6 L688.8 1488.9 L675.5 1486.3 L662.2 1483.6 L649.0 1480.8 L635.7 1477.9 L622.4 1475.1 L609.2 1472.1 L595.9 1469.1 L582.6 1466.0 L569.3 1462.9 L556.1 1459.7 L542.8 1456.4 L529.5 1453.1 L516.3 1449.7 L503.0 1446.2 L489.7 1442.6 L476.4 1439.0 L463.2 1435.2 L449.9 1431.4 L436.6 1427.4 L423.3 1423.3 L410.1 1419.1 L396.8 1414.8 L383.5 1410.4 L370.3 1405.8 L357.0 1401.1 L343.7 1396.2 L330.4 1391.2 L317.2 1386.0 L303.9 1380.7 L290.6 1375.2 L277.4 1369.4 L264.1 1363.5 L250.8 1357.4 L237.5 1351.1 L224.3 1344.5 L211.0 1337.6 L197.7 1330.5 L184.5 1323.1 L171.2 1315.3 L157.9 1307.3 L144.6 1298.8 L131.4 1289.9 L118.1 1280.6Z" fill="#f21010" fill-opacity="0.23" stroke="none"/>
<path d="M118.1 1275.6 L131.4 1285.0 L144.6 1294.0 L157.9 1302.5 L171.2 1310.7 L184.5 1318.5 L197.7 1326.0 L211.0 1333.2 L224.3 1340.1 L237.5 1346.7 L250.8 1353.1 L264.1 1359.3 L277.4 1365.2 L290.6 1370.9 L303.9 1376.5 L317.2 1381.8 L330.4 1387.0 L343.7 1392.0 L357.0 1396.9 L370.3 1401.6 L383.5 1406.2 L396.8 1410.6 L410.1 1414.9 L423.3 1419.1 L436.6 1423.2 L449.9 1427.2 L463.2 1431.0 L476.4 1434.8 L489.7 1438.4 L503.0 1442.0 L516.3 1445.5 L529.5 1448.9 L542.8 1452.2 L556.1 1455.4 L569.3 1458.6 L582.6 1461.7 L595.9 1464.7 L609.2 1467.7 L622.4 1470.5 L635.7 1473.4 L649.0 1476.1 L662.2 1478.8 L675.5 1481.5 L688.8 1484.1 L702.1 1486.6 L715.3 1489.1 L728.6 1491.6 L741.9 1494.0 L755.1 1496.3 L768.4 1498.6 L781.7 1500.9 L795.0 1503.1 L808.2 1505.3 L821.5 1507.4 L834.8 1509.5 L848.0 1511.6 L861.3 1513.6 L874.6 1515.6 L887.9 1517.6 L901.1 1519.5 L914.4 1521.4" fill="none" stroke="#f21010" stroke-width="2.7"/>
<path d="M118.1 1278.8 L131.4 1288.3 L144.6 1297.4 L157.9 1306.1 L171.2 1314.4 L184.5 1322.3 L197.7 1329.9 L211.0 1337.2 L224.3 1344.2 L237.5 1351.0 L250.8 1357.5 L264.1 1363.8 L277.4 1369.9 L290.6 1375.7 L303.9 1381.4 L317.2 1386.8 L330.4 1392.1 L343.7 1397.3 L357.0 1402.2 L370.3 1407.1 L383.5 1411.7 L396.8 1416.3 L410.1 1420.7 L423.3 1425.0 L436.6 1429.2 L449.9 1433.3 L463.2 1437.2 L476.4 1441.1 L489.7 1444.9 L503.0 1448.5 L516.3 1452.1 L529.5 1455.6 L542.8 1459.0 L556.1 1462.3 L569.3 1465.5 L582.6 1468.7 L595.9 1471.7 L609.2 1474.7 L622.4 1477.6 L635.7 1480.4 L649.0 1483.2 L662.2 1485.9 L675.5 1488.6 L688.8 1491.2 L702.1 1493.7 L715.3 1496.2 L728.6 1498.6 L741.9 1501.0 L755.1 1503.3 L768.4 1505.5 L781.7 1507.6 L795.0 1509.7 L808.2 1511.8 L821.5 1513.8 L834.8 1515.7 L848.0 1517.6 L861.3 1519.4 L874.6 1521.2 L887.9 1523.0 L901.1 1524.7 L914.4 1526.4 L914.4 1543.4 L901.1 1541.2 L887.9 1538.9 L874.6 1536.7 L861.3 1534.4 L848.0 1532.0 L834.8 1529.7 L821.5 1527.3 L808.2 1524.9 L795.0 1522.5 L781.7 1520.0 L768.4 1517.5 L755.1 1515.0 L741.9 1512.4 L728.6 1509.8 L715.3 1507.2 L702.1 1504.5 L688.8 1501.8 L675.5 1499.1 L662.2 1496.3 L649.0 1493.4 L635.7 1490.5 L622.4 1487.5 L609.2 1484.5 L595.9 1481.4 L582.6 1478.3 L569.3 1475.1 L556.1 1471.8 L542.8 1468.4 L529.5 1464.9 L516.3 1461.4 L503.0 1457.8 L489.7 1454.1 L476.4 1450.3 L463.2 1446.4 L449.9 1442.4 L436.6 1438.3 L423.3 1434.1 L410.1 1429.8 L396.8 1425.4 L383.5 1420.8 L370.3 1416.1 L357.0 1411.3 L343.7 1406.3 L330.4 1401.1 L317.2 1395.8 L303.9 1390.4 L290.6 1384.7 L277.4 1378.9 L264.1 1372.8 L250.8 1366.6 L237.5 1360.1 L224.3 1353.4 L211.0 1346.4 L197.7 1339.1 L184.5 1331.5 L171.2 1323.6 L157.9 1315.4 L144.6 1306.8 L131.4 1297.7 L118.1 1288.3Z" fill="#0a3cf5" fill-opacity="0.23" stroke="none"/>
<path d="M118.1 1283.3 L131.4 1292.8 L144.6 1301.9 L157.9 1310.6 L171.2 1318.9 L184.5 1326.8 L197.7 1334.4 L211.0 1341.7 L224.3 1348.7 L237.5 1355.5 L250.8 1362.0 L264.1 1368.3 L277.4 1374.4 L290.6 1380.2 L303.9 1385.9 L317.2 1391.3 L330.4 1396.6 L343.7 1401.8 L357.0 1406.7 L370.3 1411.6 L383.5 1416.2 L396.8 1420.8 L410.1 1425.2 L423.3 1429.5 L436.6 1433.7 L449.9 1437.8 L463.2 1441.7 L476.4 1445.6 L489.7 1449.4 L503.0 1453.0 L516.3 1456.6 L529.5 1460.1 L542.8 1463.5 L556.1 1466.9 L569.3 1470.1 L582.6 1473.3 L595.9 1476.4 L609.2 1479.5 L622.4 1482.5 L635.7 1485.4 L649.0 1488.2 L662.2 1491.0 L675.5 1493.8 L688.8 1496.5 L702.1 1499.1 L715.3 1501.7 L728.6 1504.2 L741.9 1506.7 L755.1 1509.2 L768.4 1511.6 L781.7 1513.9 L795.0 1516.2 L808.2 1518.5 L821.5 1520.7 L834.8 1522.9 L848.0 1525.1 L861.3 1527.2 L874.6 1529.3 L887.9 1531.4 L901.1 1533.4 L914.4 1535.4" fill="none" stroke="#0a3cf5" stroke-width="2.7"/>
<path d="M118.1 1294.4 L131.4 1304.3 L144.6 1313.8 L157.9 1322.8 L171.2 1331.5 L184.5 1339.8 L197.7 1347.8 L211.0 1355.4 L224.3 1362.8 L237.5 1369.9 L250.8 1376.8 L264.1 1383.4 L277.4 1389.8 L290.6 1395.9 L303.9 1401.9 L317.2 1407.6 L330.4 1413.2 L343.7 1418.6 L357.0 1423.9 L370.3 1429.0 L383.5 1433.9 L396.8 1438.8 L410.1 1443.4 L423.3 1448.0 L436.6 1452.5 L449.9 1456.8 L463.2 1461.0 L476.4 1465.1 L489.7 1469.1 L503.0 1473.0 L516.3 1476.9 L529.5 1480.6 L542.8 1484.2 L556.1 1487.8 L569.3 1491.3 L582.6 1494.6 L595.9 1497.9 L609.2 1501.2 L622.4 1504.3 L635.7 1507.4 L649.0 1510.5 L662.2 1513.4 L675.5 1516.3 L688.8 1519.2 L702.1 1522.0 L715.3 1524.7 L728.6 1527.3 L741.9 1529.9 L755.1 1532.4 L768.4 1534.9 L781.7 1537.3 L795.0 1539.6 L808.2 1541.8 L821.5 1544.0 L834.8 1546.2 L848.0 1548.3 L861.3 1550.3 L874.6 1552.3 L887.9 1554.2 L901.1 1556.1 L914.4 1558.0 L914.4 1573.0 L901.1 1570.6 L887.9 1568.2 L874.6 1565.7 L861.3 1563.2 L848.0 1560.7 L834.8 1558.1 L821.5 1555.5 L808.2 1552.9 L795.0 1550.2 L781.7 1547.6 L768.4 1544.8 L755.1 1542.1 L741.9 1539.3 L728.6 1536.5 L715.3 1533.7 L702.1 1530.8 L688.8 1527.9 L675.5 1524.9 L662.2 1521.9 L649.0 1518.8 L635.7 1515.6 L622.4 1512.4 L609.2 1509.2 L595.9 1505.8 L582.6 1502.4 L569.3 1499.0 L556.1 1495.5 L542.8 1491.9 L529.5 1488.2 L516.3 1484.5 L503.0 1480.6 L489.7 1476.7 L476.4 1472.7 L463.2 1468.6 L449.9 1464.4 L436.6 1460.1 L423.3 1455.7 L410.1 1451.2 L396.8 1446.5 L383.5 1441.7 L370.3 1436.8 L357.0 1431.7 L343.7 1426.5 L330.4 1421.2 L317.2 1415.6 L303.9 1409.9 L290.6 1404.0 L277.4 1398.0 L264.1 1391.7 L250.8 1385.2 L237.5 1378.5 L224.3 1371.6 L211.0 1364.4 L197.7 1356.9 L184.5 1349.1 L171.2 1341.0 L157.9 1332.6 L144.6 1323.8 L131.4 1314.5 L118.1 1304.9Z" fill="#008c05" fill-opacity="0.23" stroke="none"/>
<path d="M118.1 1299.4 L131.4 1309.2 L144.6 1318.6 L157.9 1327.5 L171.2 1336.1 L184.5 1344.3 L197.7 1352.2 L211.0 1359.8 L224.3 1367.1 L237.5 1374.2 L250.8 1381.0 L264.1 1387.5 L277.4 1393.9 L290.6 1400.0 L303.9 1405.9 L317.2 1411.6 L330.4 1417.2 L343.7 1422.6 L357.0 1427.8 L370.3 1432.9 L383.5 1437.8 L396.8 1442.6 L410.1 1447.3 L423.3 1451.9 L436.6 1456.3 L449.9 1460.6 L463.2 1464.8 L476.4 1468.9 L489.7 1472.9 L503.0 1476.8 L516.3 1480.7 L529.5 1484.4 L542.8 1488.1 L556.1 1491.6 L569.3 1495.1 L582.6 1498.5 L595.9 1501.9 L609.2 1505.2 L622.4 1508.4 L635.7 1511.5 L649.0 1514.6 L662.2 1517.6 L675.5 1520.6 L688.8 1523.5 L702.1 1526.4 L715.3 1529.2 L728.6 1531.9 L741.9 1534.6 L755.1 1537.3 L768.4 1539.9 L781.7 1542.5 L795.0 1545.0 L808.2 1547.5 L821.5 1550.0 L834.8 1552.4 L848.0 1554.7 L861.3 1557.1 L874.6 1559.3 L887.9 1561.6 L901.1 1563.8 L914.4 1566.0" fill="none" stroke="#008c05" stroke-width="2.7"/>
<path d="M118.1 1324.0 L131.4 1334.5 L144.6 1344.6 L157.9 1354.2 L171.2 1363.4 L184.5 1372.2 L197.7 1380.8 L211.0 1389.0 L224.3 1396.9 L237.5 1404.5 L250.8 1411.9 L264.1 1419.0 L277.4 1425.9 L290.6 1432.6 L303.9 1439.0 L317.2 1445.3 L330.4 1451.4 L343.7 1457.3 L357.0 1463.0 L370.3 1468.6 L383.5 1474.1 L396.8 1479.4 L410.1 1484.5 L423.3 1489.5 L436.6 1494.4 L449.9 1499.2 L463.2 1503.9 L476.4 1508.4 L489.7 1512.8 L503.0 1517.2 L516.3 1521.4 L529.5 1525.5 L542.8 1529.6 L556.1 1533.5 L569.3 1537.4 L582.6 1541.2 L595.9 1544.9 L609.2 1548.5 L622.4 1552.1 L635.7 1555.5 L649.0 1559.0 L662.2 1562.3 L675.5 1565.6 L688.8 1568.8 L702.1 1572.0 L715.3 1575.1 L728.6 1578.2 L741.9 1581.2 L755.1 1584.1 L768.4 1587.0 L781.7 1589.8 L795.0 1592.6 L808.2 1595.4 L821.5 1598.1 L834.8 1600.7 L848.0 1603.3 L861.3 1605.9 L874.6 1608.4 L887.9 1610.9 L901.1 1613.3 L914.4 1615.7 L914.4 1621.7 L901.1 1619.2 L887.9 1616.7 L874.6 1614.1 L861.3 1611.5 L848.0 1608.9 L834.8 1606.2 L821.5 1603.5 L808.2 1600.7 L795.0 1597.9 L781.7 1595.1 L768.4 1592.2 L755.1 1589.2 L741.9 1586.3 L728.6 1583.2 L715.3 1580.1 L702.1 1577.0 L688.8 1573.8 L675.5 1570.5 L662.2 1567.2 L649.0 1563.8 L635.7 1560.3 L622.4 1556.8 L609.2 1553.2 L595.9 1549.6 L582.6 1545.8 L569.3 1542.0 L556.1 1538.1 L542.8 1534.2 L529.5 1530.1 L516.3 1526.0 L503.0 1521.8 L489.7 1517.5 L476.4 1513.1 L463.2 1508.5 L449.9 1503.9 L436.6 1499.2 L423.3 1494.4 L410.1 1489.4 L396.8 1484.3 L383.5 1479.1 L370.3 1473.7 L357.0 1468.2 L343.7 1462.5 L330.4 1456.6 L317.2 1450.6 L303.9 1444.4 L290.6 1438.0 L277.4 1431.4 L264.1 1424.5 L250.8 1417.5 L237.5 1410.2 L224.3 1402.6 L211.0 1394.8 L197.7 1386.7 L184.5 1378.2 L171.2 1369.5 L157.9 1360.3 L144.6 1350.8 L131.4 1340.9 L118.1 1330.5Z" fill="#f20ac8" fill-opacity="0.23" stroke="none"/>
<path d="M118.1 1328.0 L131.4 1338.4 L144.6 1348.3 L157.9 1357.8 L171.2 1367.0 L184.5 1375.7 L197.7 1384.2 L211.0 1392.3 L224.3 1400.1 L237.5 1407.7 L250.8 1415.0 L264.1 1422.0 L277.4 1428.9 L290.6 1435.5 L303.9 1441.9 L317.2 1448.1 L330.4 1454.1 L343.7 1460.0 L357.0 1465.7 L370.3 1471.2 L383.5 1476.6 L396.8 1481.9 L410.1 1487.0 L423.3 1492.0 L436.6 1496.8 L449.9 1501.6 L463.2 1506.2 L476.4 1510.7 L489.7 1515.2 L503.0 1519.5 L516.3 1523.7 L529.5 1527.8 L542.8 1531.9 L556.1 1535.8 L569.3 1539.7 L582.6 1543.5 L595.9 1547.2 L609.2 1550.9 L622.4 1554.4 L635.7 1557.9 L649.0 1561.4 L662.2 1564.7 L675.5 1568.0 L688.8 1571.3 L702.1 1574.5 L715.3 1577.6 L728.6 1580.7 L741.9 1583.7 L755.1 1586.7 L768.4 1589.6 L781.7 1592.5 L795.0 1595.3 L808.2 1598.1 L821.5 1600.8 L834.8 1603.5 L848.0 1606.1 L861.3 1608.7 L874.6 1611.3 L887.9 1613.8 L901.1 1616.3 L914.4 1618.7" fill="none" stroke="#f20ac8" stroke-width="2.7"/>
</g>
<text class="t" transform="translate(539.9 1236.2) scale(0.96 1)">σ = 3000 S/cm</text>
<path d="M543.1 1266.2 h41.8" stroke="#f21010" stroke-width="2.7" fill="none"/>
<text class="t" transform="translate(595.9 1274.3) scale(0.96 1)">N = 1.9 × 10<tspan class="sup" dx="3.5" dy="-17.5">21</tspan><tspan dx="1.3" dy="17.5" letter-spacing="0.22"> ; <tspan class="it">μ</tspan> = 10</tspan></text>
<path d="M543.1 1304.2 h41.8" stroke="#0a3cf5" stroke-width="2.7" fill="none"/>
<text class="t" transform="translate(595.9 1312.3) scale(0.96 1)">N = 4.7 × 10<tspan class="sup" dx="3.5" dy="-17.5">20</tspan><tspan dx="1.3" dy="17.5" letter-spacing="0.22"> ; <tspan class="it">μ</tspan> = 40</tspan></text>
<path d="M543.1 1342.2 h41.8" stroke="#008c05" stroke-width="2.7" fill="none"/>
<text class="t" transform="translate(595.9 1350.3) scale(0.96 1)">N = 1.9 × 10<tspan class="sup" dx="3.5" dy="-17.5">20</tspan><tspan dx="1.3" dy="17.5" letter-spacing="0.22"> ; <tspan class="it">μ</tspan> = 100</tspan></text>
<path d="M543.1 1380.2 h41.8" stroke="#f20ac8" stroke-width="2.7" fill="none"/>
<text class="t" transform="translate(595.9 1388.3) scale(0.96 1)">N = 9.4 × 10<tspan class="sup" dx="3.5" dy="-17.5">19</tspan><tspan dx="1.3" dy="17.5" letter-spacing="0.22"> ; <tspan class="it">μ</tspan> = 200</tspan></text>
</g>
<g id="panel-f">
<clipPath id="clip-f"><rect x="1071.1" y="1181.0" width="800.9" height="448.9"/></clipPath>
<rect x="1071.1" y="1181.0" width="799.7" height="448.9" fill="none" stroke="#000" stroke-width="2.7"/>
<path d="M1071.1 1629.9v-20.0M1071.1 1181.0v20.0M1111.1 1629.9v-10.3M1111.1 1181.0v10.3M1151.1 1629.9v-10.3M1151.1 1181.0v10.3M1191.1 1629.9v-10.3M1191.1 1181.0v10.3M1231.0 1629.9v-10.3M1231.0 1181.0v10.3M1271.0 1629.9v-20.0M1271.0 1181.0v20.0M1311.0 1629.9v-10.3M1311.0 1181.0v10.3M1351.0 1629.9v-10.3M1351.0 1181.0v10.3M1391.0 1629.9v-10.3M1391.0 1181.0v10.3M1431.0 1629.9v-10.3M1431.0 1181.0v10.3M1470.9 1629.9v-20.0M1470.9 1181.0v20.0M1510.9 1629.9v-10.3M1510.9 1181.0v10.3M1550.9 1629.9v-10.3M1550.9 1181.0v10.3M1590.9 1629.9v-10.3M1590.9 1181.0v10.3M1630.9 1629.9v-10.3M1630.9 1181.0v10.3M1670.9 1629.9v-20.0M1670.9 1181.0v20.0M1710.9 1629.9v-10.3M1710.9 1181.0v10.3M1750.8 1629.9v-10.3M1750.8 1181.0v10.3M1790.8 1629.9v-10.3M1790.8 1181.0v10.3M1830.8 1629.9v-10.3M1830.8 1181.0v10.3M1870.8 1629.9v-20.0M1870.8 1181.0v20.0M1071.1 1629.9h20.0M1870.8 1629.9h-20.0M1071.1 1607.5h10.3M1870.8 1607.5h-10.3M1071.1 1585.0h10.3M1870.8 1585.0h-10.3M1071.1 1562.6h10.3M1870.8 1562.6h-10.3M1071.1 1540.1h10.3M1870.8 1540.1h-10.3M1071.1 1517.7h20.0M1870.8 1517.7h-20.0M1071.1 1495.2h10.3M1870.8 1495.2h-10.3M1071.1 1472.8h10.3M1870.8 1472.8h-10.3M1071.1 1450.3h10.3M1870.8 1450.3h-10.3M1071.1 1427.9h10.3M1870.8 1427.9h-10.3M1071.1 1405.5h20.0M1870.8 1405.5h-20.0M1071.1 1383.0h10.3M1870.8 1383.0h-10.3M1071.1 1360.6h10.3M1870.8 1360.6h-10.3M1071.1 1338.1h10.3M1870.8 1338.1h-10.3M1071.1 1315.7h10.3M1870.8 1315.7h-10.3M1071.1 1293.2h20.0M1870.8 1293.2h-20.0M1071.1 1270.8h10.3M1870.8 1270.8h-10.3M1071.1 1248.3h10.3M1870.8 1248.3h-10.3M1071.1 1225.9h10.3M1870.8 1225.9h-10.3M1071.1 1203.4h10.3M1870.8 1203.4h-10.3M1071.1 1181.0h20.0M1870.8 1181.0h-20.0" stroke="#000" stroke-width="2.4" fill="none"/>
<text class="t" transform="translate(1071.1 1664.9) scale(0.96 1)" text-anchor="middle">1.0</text>
<text class="t" transform="translate(1271.0 1664.9) scale(0.96 1)" text-anchor="middle">1.5</text>
<text class="t" transform="translate(1470.9 1664.9) scale(0.96 1)" text-anchor="middle">2.0</text>
<text class="t" transform="translate(1670.9 1664.9) scale(0.96 1)" text-anchor="middle">2.5</text>
<text class="t" transform="translate(1870.8 1664.9) scale(0.96 1)" text-anchor="middle">3.0</text>
<text class="t" transform="translate(1059.2 1638.5) scale(0.96 1)" text-anchor="end">20</text>
<text class="t" transform="translate(1059.2 1526.3) scale(0.96 1)" text-anchor="end">30</text>
<text class="t" transform="translate(1059.2 1414.0) scale(0.96 1)" text-anchor="end">40</text>
<text class="t" transform="translate(1059.2 1301.8) scale(0.96 1)" text-anchor="end">50</text>
<text class="t" transform="translate(1059.2 1189.6) scale(0.96 1)" text-anchor="end">60</text>
<text class="t" transform="translate(1470.9 1722.1) scale(0.96 1)" text-anchor="middle">Frequency (THz)</text>
<text class="t" transform="translate(999.8 1406.5) rotate(-90) scale(0.96 1)" text-anchor="middle">Refractive index</text>
<text class="pl" transform="translate(962.6 1193.0) scale(0.97 1)">f</text>
<g clip-path="url(#clip-f)">
<path d="M1073.9 1245.7 L1087.2 1255.3 L1100.5 1264.4 L1113.7 1273.0 L1127.0 1281.2 L1140.3 1289.1 L1153.6 1296.6 L1166.9 1303.6 L1180.2 1310.2 L1193.4 1316.5 L1206.7 1322.4 L1220.0 1328.1 L1233.3 1333.6 L1246.6 1338.8 L1259.8 1343.9 L1273.1 1348.8 L1286.4 1353.4 L1299.7 1357.8 L1313.0 1362.1 L1326.3 1366.1 L1339.5 1370.0 L1352.8 1373.6 L1366.1 1377.1 L1379.4 1380.3 L1392.7 1383.4 L1405.9 1386.3 L1419.2 1388.8 L1432.5 1391.1 L1445.8 1393.3 L1459.1 1395.3 L1472.3 1397.3 L1485.6 1399.4 L1498.9 1401.4 L1512.2 1403.3 L1525.5 1405.2 L1538.8 1407.2 L1552.0 1409.2 L1565.3 1411.4 L1578.6 1413.6 L1591.9 1415.9 L1605.2 1418.2 L1618.4 1420.4 L1631.7 1422.6 L1645.0 1424.7 L1658.3 1426.7 L1671.6 1428.6 L1684.9 1430.3 L1698.1 1431.8 L1711.4 1433.2 L1724.7 1434.6 L1738.0 1435.9 L1751.3 1437.1 L1764.5 1438.4 L1777.8 1439.7 L1791.1 1441.0 L1804.4 1442.2 L1817.7 1443.5 L1831.0 1444.7 L1844.2 1445.9 L1857.5 1447.1 L1870.8 1448.3 L1870.8 1571.3 L1857.5 1569.1 L1844.2 1566.8 L1831.0 1564.5 L1817.7 1562.2 L1804.4 1559.9 L1791.1 1557.6 L1777.8 1555.2 L1764.5 1552.9 L1751.3 1550.5 L1738.0 1548.1 L1724.7 1545.7 L1711.4 1543.2 L1698.1 1540.7 L1684.9 1538.1 L1671.6 1535.4 L1658.3 1532.6 L1645.0 1529.5 L1631.7 1526.2 L1618.4 1522.9 L1605.2 1519.5 L1591.9 1516.1 L1578.6 1512.8 L1565.3 1509.7 L1552.0 1506.7 L1538.8 1503.9 L1525.5 1501.1 L1512.2 1498.2 L1498.9 1495.2 L1485.6 1492.1 L1472.3 1488.5 L1459.1 1484.2 L1445.8 1479.3 L1432.5 1474.2 L1419.2 1469.0 L1405.9 1464.1 L1392.7 1459.5 L1379.4 1455.1 L1366.1 1450.5 L1352.8 1445.9 L1339.5 1441.2 L1326.3 1436.3 L1313.0 1431.3 L1299.7 1426.0 L1286.4 1420.6 L1273.1 1415.0 L1259.8 1409.4 L1246.6 1403.6 L1233.3 1397.8 L1220.0 1391.9 L1206.7 1385.7 L1193.4 1379.4 L1180.2 1372.8 L1166.9 1366.0 L1153.6 1358.9 L1140.3 1351.7 L1127.0 1344.7 L1113.7 1337.9 L1100.5 1331.0 L1087.2 1324.0 L1073.9 1316.7Z" fill="#f21010" fill-opacity="0.23" stroke="none"/>
<path d="M1073.9 1275.6 L1087.2 1285.0 L1100.5 1294.0 L1113.7 1302.5 L1127.0 1310.7 L1140.3 1318.5 L1153.6 1326.0 L1166.9 1333.2 L1180.2 1340.1 L1193.4 1346.7 L1206.7 1353.1 L1220.0 1359.3 L1233.3 1365.2 L1246.6 1370.9 L1259.8 1376.5 L1273.1 1381.8 L1286.4 1387.0 L1299.7 1392.0 L1313.0 1396.9 L1326.3 1401.6 L1339.5 1406.2 L1352.8 1410.6 L1366.1 1414.9 L1379.4 1419.1 L1392.7 1423.2 L1405.9 1427.2 L1419.2 1431.0 L1432.5 1434.8 L1445.8 1438.4 L1459.1 1442.0 L1472.3 1445.5 L1485.6 1448.9 L1498.9 1452.2 L1512.2 1455.4 L1525.5 1458.6 L1538.8 1461.7 L1552.0 1464.7 L1565.3 1467.7 L1578.6 1470.5 L1591.9 1473.4 L1605.2 1476.1 L1618.4 1478.8 L1631.7 1481.5 L1645.0 1484.1 L1658.3 1486.6 L1671.6 1489.1 L1684.9 1491.6 L1698.1 1494.0 L1711.4 1496.3 L1724.7 1498.6 L1738.0 1500.9 L1751.3 1503.1 L1764.5 1505.3 L1777.8 1507.4 L1791.1 1509.5 L1804.4 1511.6 L1817.7 1513.6 L1831.0 1515.6 L1844.2 1517.6 L1857.5 1519.5 L1870.8 1521.4" fill="none" stroke="#f21010" stroke-width="2.7"/>
<path d="M1073.9 1256.8 L1087.2 1266.3 L1100.5 1275.3 L1113.7 1283.8 L1127.0 1292.0 L1140.3 1299.8 L1153.6 1307.3 L1166.9 1314.4 L1180.2 1321.2 L1193.4 1327.7 L1206.7 1333.9 L1220.0 1339.9 L1233.3 1345.6 L1246.6 1351.1 L1259.8 1356.3 L1273.1 1361.2 L1286.4 1365.9 L1299.7 1370.4 L1313.0 1374.8 L1326.3 1379.0 L1339.5 1383.1 L1352.8 1387.0 L1366.1 1390.8 L1379.4 1394.3 L1392.7 1397.7 L1405.9 1400.8 L1419.2 1403.4 L1432.5 1405.7 L1445.8 1407.8 L1459.1 1409.8 L1472.3 1411.9 L1485.6 1414.3 L1498.9 1416.9 L1512.2 1419.4 L1525.5 1422.0 L1538.8 1424.5 L1552.0 1426.9 L1565.3 1429.1 L1578.6 1431.3 L1591.9 1433.3 L1605.2 1435.3 L1618.4 1437.2 L1631.7 1439.0 L1645.0 1440.9 L1658.3 1442.8 L1671.6 1444.7 L1684.9 1446.6 L1698.1 1448.6 L1711.4 1450.5 L1724.7 1452.4 L1738.0 1454.3 L1751.3 1456.2 L1764.5 1458.0 L1777.8 1459.7 L1791.1 1461.3 L1804.4 1462.9 L1817.7 1464.5 L1831.0 1466.0 L1844.2 1467.5 L1857.5 1468.9 L1870.8 1470.3 L1870.8 1581.0 L1857.5 1578.4 L1844.2 1575.8 L1831.0 1573.3 L1817.7 1570.7 L1804.4 1568.2 L1791.1 1565.8 L1777.8 1563.5 L1764.5 1561.2 L1751.3 1559.0 L1738.0 1556.7 L1724.7 1554.3 L1711.4 1551.9 L1698.1 1549.5 L1684.9 1547.0 L1671.6 1544.5 L1658.3 1541.8 L1645.0 1538.7 L1631.7 1535.3 L1618.4 1531.8 L1605.2 1528.2 L1591.9 1524.6 L1578.6 1521.1 L1565.3 1517.8 L1552.0 1514.8 L1538.8 1512.0 L1525.5 1509.3 L1512.2 1506.6 L1498.9 1503.7 L1485.6 1500.6 L1472.3 1496.9 L1459.1 1492.1 L1445.8 1486.6 L1432.5 1480.9 L1419.2 1475.2 L1405.9 1470.0 L1392.7 1465.6 L1379.4 1461.2 L1366.1 1456.8 L1352.8 1452.2 L1339.5 1447.6 L1326.3 1442.7 L1313.0 1437.7 L1299.7 1432.3 L1286.4 1426.7 L1273.1 1420.9 L1259.8 1415.1 L1246.6 1409.1 L1233.3 1403.2 L1220.0 1397.1 L1206.7 1390.9 L1193.4 1384.5 L1180.2 1377.8 L1166.9 1370.9 L1153.6 1363.8 L1140.3 1356.5 L1127.0 1349.4 L1113.7 1342.4 L1100.5 1335.3 L1087.2 1328.0 L1073.9 1320.4Z" fill="#0a3cf5" fill-opacity="0.23" stroke="none"/>
<path d="M1073.9 1283.3 L1087.2 1292.8 L1100.5 1301.9 L1113.7 1310.6 L1127.0 1318.8 L1140.3 1326.8 L1153.6 1334.4 L1166.9 1341.7 L1180.2 1348.7 L1193.4 1355.5 L1206.7 1362.0 L1220.0 1368.3 L1233.3 1374.4 L1246.6 1380.2 L1259.8 1385.9 L1273.1 1391.3 L1286.4 1396.6 L1299.7 1401.8 L1313.0 1406.7 L1326.3 1411.6 L1339.5 1416.2 L1352.8 1420.8 L1366.1 1425.2 L1379.4 1429.5 L1392.7 1433.7 L1405.9 1437.8 L1419.2 1441.7 L1432.5 1445.6 L1445.8 1449.4 L1459.1 1453.0 L1472.3 1456.6 L1485.6 1460.1 L1498.9 1463.5 L1512.2 1466.9 L1525.5 1470.1 L1538.8 1473.3 L1552.0 1476.4 L1565.3 1479.5 L1578.6 1482.5 L1591.9 1485.4 L1605.2 1488.2 L1618.4 1491.0 L1631.7 1493.8 L1645.0 1496.5 L1658.3 1499.1 L1671.6 1501.7 L1684.9 1504.2 L1698.1 1506.7 L1711.4 1509.2 L1724.7 1511.6 L1738.0 1513.9 L1751.3 1516.2 L1764.5 1518.5 L1777.8 1520.7 L1791.1 1522.9 L1804.4 1525.1 L1817.7 1527.2 L1831.0 1529.3 L1844.2 1531.4 L1857.5 1533.4 L1870.8 1535.4" fill="none" stroke="#0a3cf5" stroke-width="2.7"/>
<path d="M1073.9 1277.8 L1087.2 1288.2 L1100.5 1298.0 L1113.7 1307.3 L1127.0 1316.1 L1140.3 1324.5 L1153.6 1332.4 L1166.9 1339.9 L1180.2 1346.8 L1193.4 1353.4 L1206.7 1359.8 L1220.0 1365.9 L1233.3 1371.9 L1246.6 1377.8 L1259.8 1383.6 L1273.1 1389.2 L1286.4 1394.7 L1299.7 1399.9 L1313.0 1405.0 L1326.3 1409.7 L1339.5 1413.9 L1352.8 1417.5 L1366.1 1420.9 L1379.4 1424.2 L1392.7 1427.6 L1405.9 1431.4 L1419.2 1435.3 L1432.5 1439.1 L1445.8 1442.8 L1459.1 1446.4 L1472.3 1450.0 L1485.6 1453.1 L1498.9 1455.1 L1512.2 1456.2 L1525.5 1456.8 L1538.8 1457.6 L1552.0 1459.1 L1565.3 1461.5 L1578.6 1464.3 L1591.9 1467.1 L1605.2 1469.9 L1618.4 1472.6 L1631.7 1475.4 L1645.0 1478.0 L1658.3 1480.7 L1671.6 1483.2 L1684.9 1485.6 L1698.1 1487.9 L1711.4 1490.2 L1724.7 1492.4 L1738.0 1494.6 L1751.3 1496.8 L1764.5 1499.1 L1777.8 1501.4 L1791.1 1503.6 L1804.4 1505.9 L1817.7 1508.1 L1831.0 1510.3 L1844.2 1512.5 L1857.5 1514.6 L1870.8 1516.8 L1870.8 1601.5 L1857.5 1598.6 L1844.2 1595.8 L1831.0 1593.0 L1817.7 1590.3 L1804.4 1587.6 L1791.1 1585.1 L1777.8 1582.6 L1764.5 1580.1 L1751.3 1577.9 L1738.0 1575.8 L1724.7 1573.8 L1711.4 1571.8 L1698.1 1569.6 L1684.9 1567.3 L1671.6 1564.7 L1658.3 1561.9 L1645.0 1558.9 L1631.7 1555.9 L1618.4 1552.7 L1605.2 1549.5 L1591.9 1546.2 L1578.6 1542.8 L1565.3 1539.3 L1552.0 1535.7 L1538.8 1531.9 L1525.5 1528.0 L1512.2 1524.0 L1498.9 1519.8 L1485.6 1515.4 L1472.3 1511.0 L1459.1 1506.3 L1445.8 1501.5 L1432.5 1496.8 L1419.2 1492.0 L1405.9 1487.2 L1392.7 1482.7 L1379.4 1478.2 L1366.1 1473.6 L1352.8 1468.8 L1339.5 1464.0 L1326.3 1458.9 L1313.0 1453.7 L1299.7 1448.2 L1286.4 1442.6 L1273.1 1436.7 L1259.8 1430.7 L1246.6 1424.5 L1233.3 1418.4 L1220.0 1412.0 L1206.7 1405.5 L1193.4 1398.8 L1180.2 1391.8 L1166.9 1384.5 L1153.6 1377.0 L1140.3 1369.3 L1127.0 1361.4 L1113.7 1353.4 L1100.5 1345.1 L1087.2 1336.5 L1073.9 1327.5Z" fill="#008c05" fill-opacity="0.23" stroke="none"/>
<path d="M1073.9 1299.4 L1087.2 1309.2 L1100.5 1318.6 L1113.7 1327.5 L1127.0 1336.1 L1140.3 1344.3 L1153.6 1352.2 L1166.9 1359.8 L1180.2 1367.1 L1193.4 1374.2 L1206.7 1381.0 L1220.0 1387.5 L1233.3 1393.9 L1246.6 1400.0 L1259.8 1405.9 L1273.1 1411.6 L1286.4 1417.2 L1299.7 1422.6 L1313.0 1427.8 L1326.3 1432.9 L1339.5 1437.8 L1352.8 1442.6 L1366.1 1447.3 L1379.4 1451.9 L1392.7 1456.3 L1405.9 1460.6 L1419.2 1464.8 L1432.5 1468.9 L1445.8 1472.9 L1459.1 1476.8 L1472.3 1480.7 L1485.6 1484.4 L1498.9 1488.1 L1512.2 1491.6 L1525.5 1495.1 L1538.8 1498.5 L1552.0 1501.9 L1565.3 1505.2 L1578.6 1508.4 L1591.9 1511.5 L1605.2 1514.6 L1618.4 1517.6 L1631.7 1520.6 L1645.0 1523.5 L1658.3 1526.4 L1671.6 1529.2 L1684.9 1531.9 L1698.1 1534.6 L1711.4 1537.3 L1724.7 1539.9 L1738.0 1542.5 L1751.3 1545.0 L1764.5 1547.5 L1777.8 1550.0 L1791.1 1552.4 L1804.4 1554.7 L1817.7 1557.1 L1831.0 1559.3 L1844.2 1561.6 L1857.5 1563.8 L1870.8 1566.0" fill="none" stroke="#008c05" stroke-width="2.7"/>
<path d="M1073.9 1320.6 L1087.2 1331.1 L1100.5 1341.2 L1113.7 1350.8 L1127.0 1360.0 L1140.3 1368.7 L1153.6 1377.2 L1166.9 1384.9 L1180.2 1392.0 L1193.4 1398.5 L1206.7 1404.7 L1220.0 1410.8 L1233.3 1416.9 L1246.6 1423.1 L1259.8 1429.2 L1273.1 1435.1 L1286.4 1440.9 L1299.7 1446.4 L1313.0 1451.9 L1326.3 1457.1 L1339.5 1462.2 L1352.8 1467.2 L1366.1 1472.0 L1379.4 1476.7 L1392.7 1481.1 L1405.9 1485.3 L1419.2 1488.8 L1432.5 1492.0 L1445.8 1495.2 L1459.1 1498.3 L1472.3 1501.4 L1485.6 1504.5 L1498.9 1507.5 L1512.2 1510.5 L1525.5 1513.4 L1538.8 1516.4 L1552.0 1519.5 L1565.3 1522.7 L1578.6 1525.9 L1591.9 1529.1 L1605.2 1532.3 L1618.4 1535.4 L1631.7 1538.5 L1645.0 1541.5 L1658.3 1544.5 L1671.6 1547.3 L1684.9 1550.0 L1698.1 1552.5 L1711.4 1554.9 L1724.7 1557.3 L1738.0 1559.7 L1751.3 1562.2 L1764.5 1564.8 L1777.8 1567.6 L1791.1 1570.9 L1804.4 1574.7 L1817.7 1578.9 L1831.0 1583.4 L1844.2 1588.3 L1857.5 1593.3 L1870.8 1598.5 L1870.8 1640.7 L1857.5 1638.4 L1844.2 1636.1 L1831.0 1633.7 L1817.7 1631.3 L1804.4 1628.9 L1791.1 1626.4 L1777.8 1623.8 L1764.5 1621.2 L1751.3 1618.6 L1738.0 1615.9 L1724.7 1613.2 L1711.4 1610.4 L1698.1 1607.5 L1684.9 1604.6 L1671.6 1601.5 L1658.3 1598.4 L1645.0 1595.2 L1631.7 1591.9 L1618.4 1588.6 L1605.2 1585.2 L1591.9 1581.8 L1578.6 1578.3 L1565.3 1574.7 L1552.0 1571.0 L1538.8 1567.0 L1525.5 1562.7 L1512.2 1558.3 L1498.9 1553.8 L1485.6 1549.3 L1472.3 1544.7 L1459.1 1540.1 L1445.8 1535.3 L1432.5 1530.4 L1419.2 1525.2 L1405.9 1520.0 L1392.7 1514.8 L1379.4 1509.6 L1366.1 1504.4 L1352.8 1499.0 L1339.5 1493.5 L1326.3 1488.0 L1313.0 1482.3 L1299.7 1476.5 L1286.4 1470.5 L1273.1 1464.3 L1259.8 1458.0 L1246.6 1451.6 L1233.3 1445.0 L1220.0 1438.1 L1206.7 1431.1 L1193.4 1423.8 L1180.2 1416.2 L1166.9 1408.4 L1153.6 1400.3 L1140.3 1392.0 L1127.0 1383.7 L1113.7 1375.4 L1100.5 1366.9 L1087.2 1358.2 L1073.9 1349.0Z" fill="#f20ac8" fill-opacity="0.23" stroke="none"/>
<path d="M1073.9 1328.0 L1087.2 1338.4 L1100.5 1348.3 L1113.7 1357.8 L1127.0 1367.0 L1140.3 1375.7 L1153.6 1384.2 L1166.9 1392.3 L1180.2 1400.1 L1193.4 1407.7 L1206.7 1415.0 L1220.0 1422.0 L1233.3 1428.9 L1246.6 1435.5 L1259.8 1441.9 L1273.1 1448.1 L1286.4 1454.1 L1299.7 1460.0 L1313.0 1465.7 L1326.3 1471.2 L1339.5 1476.6 L1352.8 1481.9 L1366.1 1487.0 L1379.4 1492.0 L1392.7 1496.8 L1405.9 1501.6 L1419.2 1506.2 L1432.5 1510.7 L1445.8 1515.2 L1459.1 1519.5 L1472.3 1523.7 L1485.6 1527.8 L1498.9 1531.9 L1512.2 1535.8 L1525.5 1539.7 L1538.8 1543.5 L1552.0 1547.2 L1565.3 1550.9 L1578.6 1554.4 L1591.9 1557.9 L1605.2 1561.4 L1618.4 1564.7 L1631.7 1568.0 L1645.0 1571.3 L1658.3 1574.5 L1671.6 1577.6 L1684.9 1580.7 L1698.1 1583.7 L1711.4 1586.7 L1724.7 1589.6 L1738.0 1592.5 L1751.3 1595.3 L1764.5 1598.1 L1777.8 1600.8 L1791.1 1603.5 L1804.4 1606.1 L1817.7 1608.7 L1831.0 1611.3 L1844.2 1613.8 L1857.5 1616.3 L1870.8 1618.7" fill="none" stroke="#f20ac8" stroke-width="2.7"/>
</g>
<path d="M1670.9 1414.3 V1610.9" stroke="#000" stroke-width="3.1" stroke-dasharray="12.6 6.85" fill="none"/>
<rect x="1603.6" y="1224.2" width="229.5" height="179.3" fill="#fff" stroke="#000" stroke-width="3"/>
<text class="in" transform="translate(1592.1 1232.0) scale(0.96 1)" text-anchor="end">40</text>
<path d="M1603.6 1268.9 H1622.1" stroke="#000" stroke-width="3" fill="none"/>
<path d="M1624.6 1268.9 H1832.1" stroke="#666" stroke-width="1.2" stroke-dasharray="2.4 3.6" fill="none"/>
<text class="in" transform="translate(1592.1 1276.7) scale(0.96 1)" text-anchor="end">35</text>
<path d="M1603.6 1313.9 H1622.1" stroke="#000" stroke-width="3" fill="none"/>
<path d="M1624.6 1313.9 H1832.1" stroke="#666" stroke-width="1.2" stroke-dasharray="2.4 3.6" fill="none"/>
<text class="in" transform="translate(1592.1 1321.7) scale(0.96 1)" text-anchor="end">30</text>
<path d="M1603.6 1359.2 H1622.1" stroke="#000" stroke-width="3" fill="none"/>
<path d="M1624.6 1359.2 H1832.1" stroke="#666" stroke-width="1.2" stroke-dasharray="2.4 3.6" fill="none"/>
<text class="in" transform="translate(1592.1 1367.0) scale(0.96 1)" text-anchor="end">25</text>
<text class="in" transform="translate(1592.1 1411.3) scale(0.96 1)" text-anchor="end">20</text>
<rect x="1623.6" y="1287.1" width="9.6" height="9.6" fill="none" stroke="#f21010" stroke-width="1.8"/>
<path d="M1624.4 1287.5h8M1624.4 1296.3h8M1628.4 1287.5V1296.3" stroke="#f21010" stroke-width="1.6" fill="none"/>
<path d="M1736.8 1242.9V1328.7M1731.3 1242.9h11M1731.3 1328.7h11" stroke="#f21010" stroke-width="2.2" fill="none"/>
<circle cx="1736.8" cy="1291.9" r="5.5" fill="#f21010"/>
<rect x="1647.7" y="1296.2" width="9.6" height="9.6" fill="none" stroke="#0a3cf5" stroke-width="1.8"/>
<path d="M1648.5 1296.6h8M1648.5 1305.4h8M1652.5 1296.6V1305.4" stroke="#0a3cf5" stroke-width="1.6" fill="none"/>
<path d="M1761.1 1254.8V1335.6M1755.6 1254.8h11M1755.6 1335.6h11" stroke="#0a3cf5" stroke-width="2.2" fill="none"/>
<circle cx="1761.1" cy="1301.0" r="5.5" fill="#0a3cf5"/>
<rect x="1671.8" y="1315.5" width="9.6" height="9.6" fill="none" stroke="#008c05" stroke-width="1.8"/>
<path d="M1672.6 1316.3h8M1672.6 1324.3h8M1676.6 1316.3V1324.3" stroke="#008c05" stroke-width="1.6" fill="none"/>
<path d="M1785.2 1281.2V1350.4M1779.7 1281.2h11M1779.7 1350.4h11" stroke="#008c05" stroke-width="2.2" fill="none"/>
<circle cx="1785.2" cy="1320.3" r="5.5" fill="#008c05"/>
<rect x="1695.9" y="1349.9" width="9.6" height="9.6" fill="none" stroke="#f20ac8" stroke-width="1.8"/>
<path d="M1696.7 1352.5h8M1696.7 1356.9h8M1700.7 1352.5V1356.9" stroke="#f20ac8" stroke-width="1.6" fill="none"/>
<path d="M1809.3 1328.3V1376.4M1803.8 1328.3h11M1803.8 1376.4h11" stroke="#f20ac8" stroke-width="2.2" fill="none"/>
<circle cx="1809.3" cy="1354.7" r="5.5" fill="#f20ac8"/>
</g>
</svg></body></html>
